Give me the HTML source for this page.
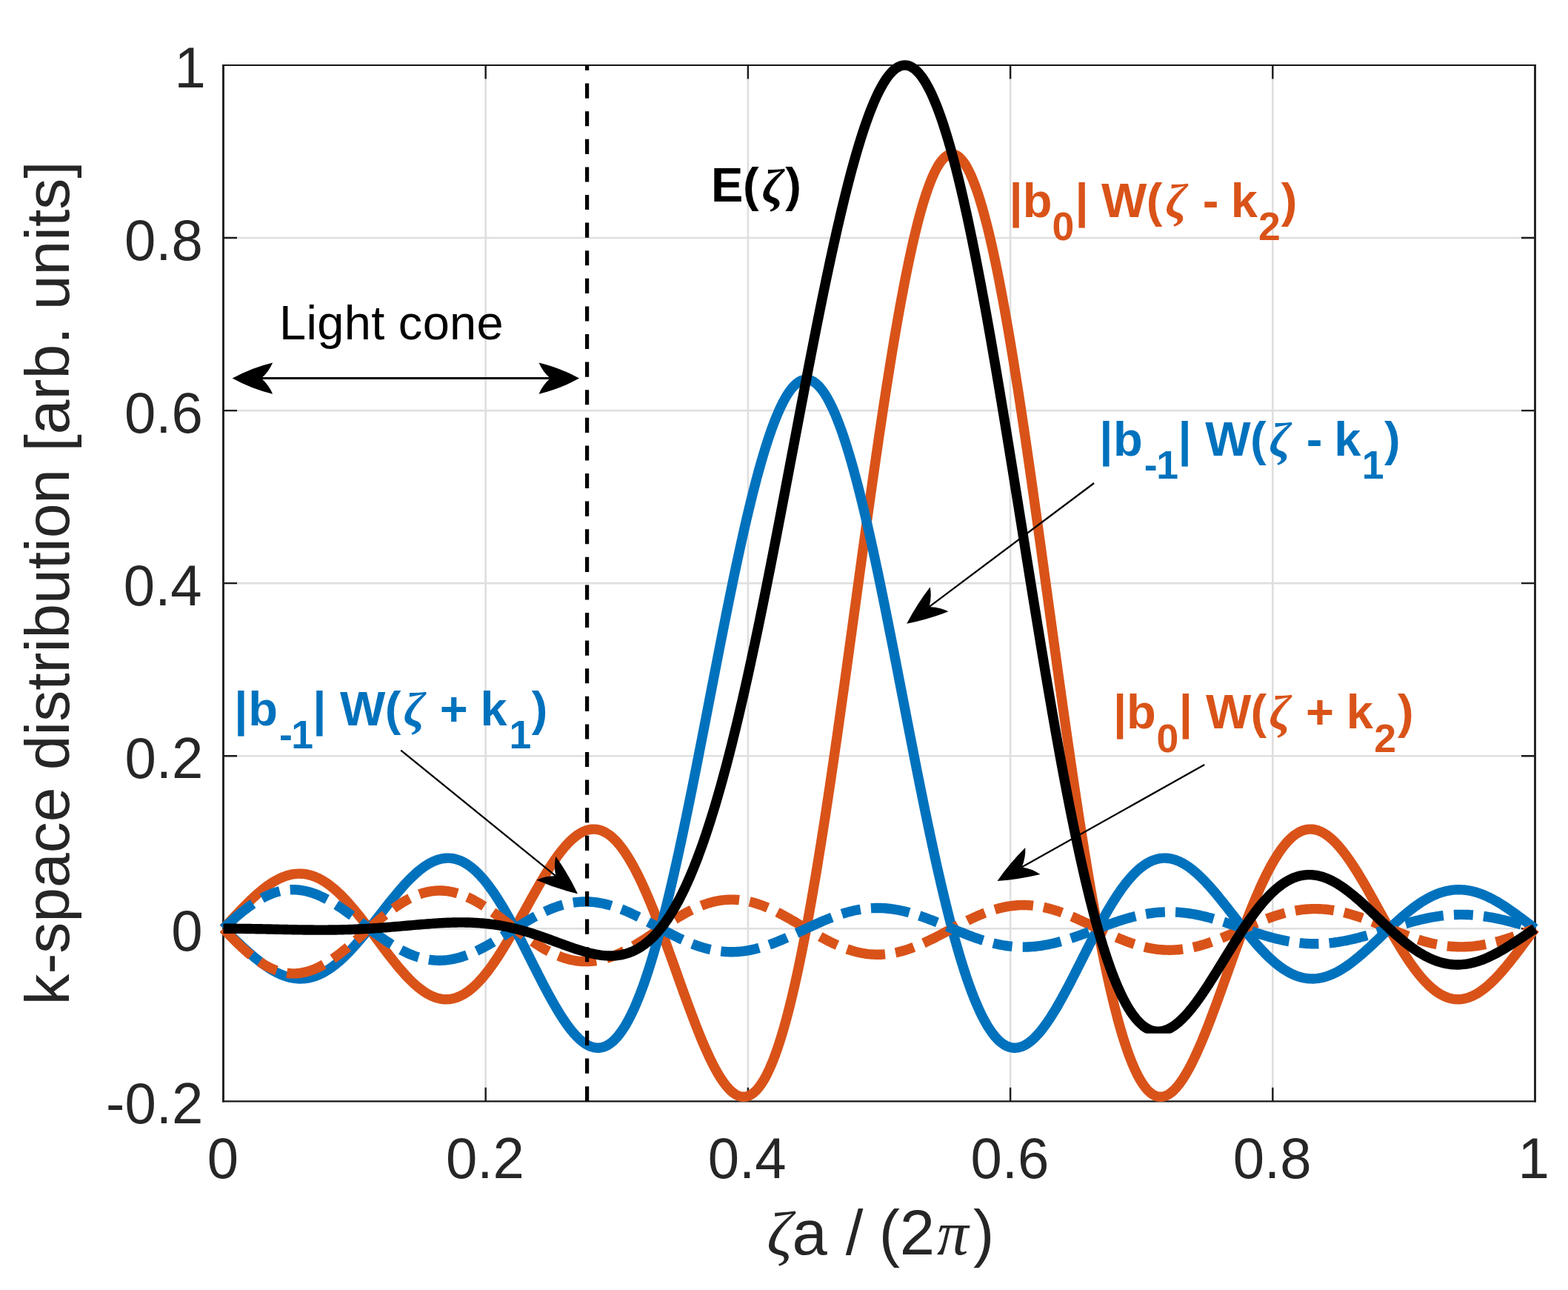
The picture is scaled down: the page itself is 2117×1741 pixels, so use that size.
<!DOCTYPE html><html><head><meta charset="utf-8"><title>k-space distribution</title><style>html,body{margin:0;padding:0;background:#fff;overflow:hidden}svg{display:block}</style></head><body><svg width="2117" height="1741" viewBox="0 0 2117 1741">
<rect width="2117" height="1741" fill="#fff"/>
<defs>
<clipPath id="cb"><rect x="0" y="0" width="2117" height="1486.90"/></clipPath>
<clipPath id="cE"><rect x="0" y="0" width="2117" height="1394.7"/></clipPath>
</defs>
<path d="M655.70,88.00V1486.30M1009.90,88.00V1486.30M1364.10,88.00V1486.30M1718.30,88.00V1486.30M301.50,1253.25H2072.50M301.50,1020.20H2072.50M301.50,787.15H2072.50M301.50,554.10H2072.50M301.50,321.05H2072.50" stroke="#262626" stroke-opacity="0.15" stroke-width="2.6" fill="none"/>
<path d="M655.70,1486.30v-18.5M655.70,88.00v18.5M1009.90,1486.30v-18.5M1009.90,88.00v18.5M1364.10,1486.30v-18.5M1364.10,88.00v18.5M1718.30,1486.30v-18.5M1718.30,88.00v18.5M301.50,1253.25h18.5M2072.50,1253.25h-18.5M301.50,1020.20h18.5M2072.50,1020.20h-18.5M301.50,787.15h18.5M2072.50,787.15h-18.5M301.50,554.10h18.5M2072.50,554.10h-18.5M301.50,321.05h18.5M2072.50,321.05h-18.5" stroke="#1c1c1c" stroke-width="2.4" fill="none"/>
<path d="M300.10,88.00H2073.90M300.10,1486.30H2073.90" stroke="#161616" stroke-width="2.2" fill="none"/>
<path d="M301.50,86.90V1487.40M2072.50,86.90V1487.40" stroke="#202020" stroke-width="2.9" fill="none"/>
<g font-family="Liberation Sans, Arial, Helvetica, sans-serif" font-size="78.5" fill="#262626">
<text transform="translate(279.68,1589.60) scale(0.97,1)">0</text>
<text transform="translate(601.90,1589.60) scale(0.97,1)">0.2</text>
<text transform="translate(955.70,1589.60) scale(0.97,1)">0.4</text>
<text transform="translate(1310.47,1589.60) scale(0.97,1)">0.6</text>
<text transform="translate(1664.63,1589.60) scale(0.97,1)">0.8</text>
<text transform="translate(2049.40,1589.60) scale(0.97,1)">1</text>
<text transform="translate(143.11,1515.90) scale(0.97,1)">-0.2</text>
<text transform="translate(231.13,1282.85) scale(0.97,1)">0</text>
<text transform="translate(168.47,1049.80) scale(0.97,1)">0.2</text>
<text transform="translate(166.87,816.75) scale(0.97,1)">0.4</text>
<text transform="translate(168.01,583.70) scale(0.97,1)">0.6</text>
<text transform="translate(167.93,350.65) scale(0.97,1)">0.8</text>
</g>
<text transform="translate(235.5,117.60) scale(0.97,1)" font-family="Liberation Sans, Arial, Helvetica, sans-serif" font-size="78.5" fill="#262626">1</text>
<text font-family="Liberation Sans, Arial, Helvetica, sans-serif" fill="#262626" ><tspan x="1035.30" y="1693.80" style="font-size:85px;font-family:Liberation Serif, Times New Roman, serif;font-style:italic;font-weight:normal">ζ</tspan><tspan x="1069.54" y="1693.30" style="font-size:85px">a</tspan><tspan x="1141.63" y="1693.30" style="font-size:85px">/</tspan><tspan x="1186.87" y="1693.30" style="font-size:85px">(</tspan><tspan x="1214.87" y="1693.30" style="font-size:85px">2</tspan><tspan x="1265.07" y="1693.30" style="font-size:85px;font-family:Liberation Serif, Times New Roman, serif;font-style:italic;font-weight:normal">π</tspan><tspan x="1314.03" y="1693.30" style="font-size:85px">)</tspan></text>
<text transform="translate(93,787) rotate(-90)" text-anchor="middle" font-family="Liberation Sans, Arial, Helvetica, sans-serif" font-size="84" fill="#262626">k-space distribution [arb. units]</text>
<g fill="none" stroke-width="13.4" stroke-linejoin="round" clip-path="url(#cb)">
<path d="M301.50,1253.25 L303.96,1250.63 L306.42,1248.00 L308.88,1245.37 L311.34,1242.74 L313.80,1240.10 L316.26,1237.48 L318.72,1234.87 L321.18,1232.27 L323.64,1229.69 L326.10,1227.13 L328.56,1224.60 L331.02,1222.11 L333.48,1219.64 L335.94,1217.22 L338.40,1214.84 L340.86,1212.51 L343.32,1210.23 L345.77,1208.00 L348.23,1205.83 L350.69,1203.72 L353.15,1201.68 L355.61,1199.71 L358.07,1197.81 L360.53,1195.98 L362.99,1194.23 L365.45,1192.57 L367.91,1190.99 L370.37,1189.50 L372.83,1188.10 L375.29,1186.79 L377.75,1185.58 L380.21,1184.46 L382.67,1183.45 L385.13,1182.54 L387.59,1181.73 L390.05,1181.03 L392.51,1180.43 L394.97,1179.95 L397.43,1179.58 L399.89,1179.32 L402.35,1179.17 L404.81,1179.13 L407.27,1179.21 L409.73,1179.40 L412.19,1179.71 L414.65,1180.14 L417.11,1180.68 L419.57,1181.34 L422.03,1182.11 L424.49,1182.99 L426.95,1183.99 L429.41,1185.10 L431.87,1186.33 L434.32,1187.66 L436.78,1189.10 L439.24,1190.65 L441.70,1192.31 L444.16,1194.07 L446.62,1195.93 L449.08,1197.89 L451.54,1199.95 L454.00,1202.11 L456.46,1204.35 L458.92,1206.69 L461.38,1209.11 L463.84,1211.61 L466.30,1214.19 L468.76,1216.85 L471.22,1219.58 L473.68,1222.38 L476.14,1225.25 L478.60,1228.17 L481.06,1231.16 L483.52,1234.19 L485.98,1237.27 L488.44,1240.40 L490.90,1243.56 L493.36,1246.76 L495.82,1249.99 L498.28,1253.25 L500.74,1256.53 L503.20,1259.82 L505.66,1263.12 L508.12,1266.43 L510.58,1269.73 L513.04,1273.04 L515.50,1276.33 L517.96,1279.61 L520.42,1282.87 L522.88,1286.11 L525.33,1289.31 L527.79,1292.48 L530.25,1295.61 L532.71,1298.70 L535.17,1301.73 L537.63,1304.71 L540.09,1307.63 L542.55,1310.49 L545.01,1313.27 L547.47,1315.99 L549.93,1318.62 L552.39,1321.17 L554.85,1323.63 L557.31,1326.00 L559.77,1328.27 L562.23,1330.44 L564.69,1332.51 L567.15,1334.47 L569.61,1336.31 L572.07,1338.04 L574.53,1339.66 L576.99,1341.15 L579.45,1342.51 L581.91,1343.74 L584.37,1344.85 L586.83,1345.82 L589.29,1346.65 L591.75,1347.34 L594.21,1347.90 L596.67,1348.31 L599.13,1348.58 L601.59,1348.70 L604.05,1348.67 L606.51,1348.50 L608.97,1348.18 L611.42,1347.71 L613.88,1347.09 L616.34,1346.32 L618.80,1345.40 L621.26,1344.33 L623.72,1343.11 L626.18,1341.74 L628.64,1340.23 L631.10,1338.57 L633.56,1336.76 L636.02,1334.82 L638.48,1332.73 L640.94,1330.50 L643.40,1328.14 L645.86,1325.64 L648.32,1323.01 L650.78,1320.25 L653.24,1317.37 L655.70,1314.36 L658.16,1311.24 L660.62,1308.00 L663.08,1304.65 L665.54,1301.20 L668.00,1297.65 L670.46,1293.99 L672.92,1290.25 L675.38,1286.42 L677.84,1282.50 L680.30,1278.51 L682.76,1274.44 L685.22,1270.31 L687.68,1266.12 L690.14,1261.88 L692.60,1257.59 L695.06,1253.25 L697.52,1248.88 L699.98,1244.48 L702.43,1240.05 L704.89,1235.61 L707.35,1231.15 L709.81,1226.70 L712.27,1222.24 L714.73,1217.80 L717.19,1213.37 L719.65,1208.96 L722.11,1204.59 L724.57,1200.25 L727.03,1195.96 L729.49,1191.71 L731.95,1187.53 L734.41,1183.41 L736.87,1179.36 L739.33,1175.38 L741.79,1171.50 L744.25,1167.70 L746.71,1164.00 L749.17,1160.41 L751.63,1156.93 L754.09,1153.56 L756.55,1150.32 L759.01,1147.20 L761.47,1144.22 L763.93,1141.38 L766.39,1138.69 L768.85,1136.15 L771.31,1133.77 L773.77,1131.55 L776.23,1129.50 L778.69,1127.61 L781.15,1125.91 L783.61,1124.38 L786.07,1123.04 L788.53,1121.89 L790.98,1120.93 L793.44,1120.17 L795.90,1119.60 L798.36,1119.24 L800.82,1119.08 L803.28,1119.12 L805.74,1119.38 L808.20,1119.84 L810.66,1120.52 L813.12,1121.41 L815.58,1122.51 L818.04,1123.83 L820.50,1125.36 L822.96,1127.10 L825.42,1129.06 L827.88,1131.24 L830.34,1133.62 L832.80,1136.22 L835.26,1139.03 L837.72,1142.04 L840.18,1145.27 L842.64,1148.69 L845.10,1152.32 L847.56,1156.14 L850.02,1160.15 L852.48,1164.36 L854.94,1168.75 L857.40,1173.32 L859.86,1178.07 L862.32,1183.00 L864.78,1188.08 L867.24,1193.33 L869.70,1198.74 L872.16,1204.29 L874.62,1209.99 L877.08,1215.82 L879.53,1221.78 L881.99,1227.86 L884.45,1234.06 L886.91,1240.36 L889.37,1246.76 L891.83,1253.25 L894.29,1259.82 L896.75,1266.47 L899.21,1273.18 L901.67,1279.94 L904.13,1286.75 L906.59,1293.60 L909.05,1300.47 L911.51,1307.36 L913.97,1314.26 L916.43,1321.15 L918.89,1328.04 L921.35,1334.90 L923.81,1341.72 L926.27,1348.50 L928.73,1355.23 L931.19,1361.89 L933.65,1368.48 L936.11,1374.98 L938.57,1381.39 L941.03,1387.68 L943.49,1393.86 L945.95,1399.91 L948.41,1405.82 L950.87,1411.58 L953.33,1417.18 L955.79,1422.61 L958.25,1427.86 L960.71,1432.91 L963.17,1437.77 L965.62,1442.41 L968.08,1446.83 L970.54,1451.01 L973.00,1454.96 L975.46,1458.66 L977.92,1462.09 L980.38,1465.26 L982.84,1468.14 L985.30,1470.75 L987.76,1473.05 L990.22,1475.05 L992.68,1476.75 L995.14,1478.12 L997.60,1479.16 L1000.06,1479.88 L1002.52,1480.25 L1004.98,1480.28 L1007.44,1479.95 L1009.90,1479.27 L1012.36,1478.22 L1014.82,1476.80 L1017.28,1475.01 L1019.74,1472.84 L1022.20,1470.29 L1024.66,1467.35 L1027.12,1464.02 L1029.58,1460.30 L1032.04,1456.19 L1034.50,1451.68 L1036.96,1446.77 L1039.42,1441.46 L1041.88,1435.75 L1044.34,1429.64 L1046.80,1423.13 L1049.26,1416.22 L1051.72,1408.91 L1054.17,1401.20 L1056.63,1393.09 L1059.09,1384.59 L1061.55,1375.70 L1064.01,1366.42 L1066.47,1356.76 L1068.93,1346.72 L1071.39,1336.29 L1073.85,1325.50 L1076.31,1314.34 L1078.77,1302.82 L1081.23,1290.94 L1083.69,1278.72 L1086.15,1266.15 L1088.61,1253.25 L1091.07,1240.02 L1093.53,1226.48 L1095.99,1212.62 L1098.45,1198.46 L1100.91,1184.01 L1103.37,1169.28 L1105.83,1154.28 L1108.29,1139.01 L1110.75,1123.50 L1113.21,1107.74 L1115.67,1091.75 L1118.13,1075.55 L1120.59,1059.14 L1123.05,1042.54 L1125.51,1025.75 L1127.97,1008.80 L1130.43,991.69 L1132.89,974.44 L1135.35,957.06 L1137.81,939.57 L1140.27,921.98 L1142.72,904.30 L1145.18,886.54 L1147.64,868.73 L1150.10,850.87 L1152.56,832.98 L1155.02,815.08 L1157.48,797.18 L1159.94,779.30 L1162.40,761.44 L1164.86,743.63 L1167.32,725.88 L1169.78,708.20 L1172.24,690.62 L1174.70,673.14 L1177.16,655.78 L1179.62,638.55 L1182.08,621.48 L1184.54,604.57 L1187.00,587.84 L1189.46,571.30 L1191.92,554.97 L1194.38,538.87 L1196.84,523.00 L1199.30,507.39 L1201.76,492.04 L1204.22,476.97 L1206.68,462.19 L1209.14,447.72 L1211.60,433.57 L1214.06,419.75 L1216.52,406.27 L1218.98,393.15 L1221.44,380.39 L1223.90,368.02 L1226.36,356.03 L1228.82,344.45 L1231.28,333.28 L1233.73,322.53 L1236.19,312.21 L1238.65,302.34 L1241.11,292.91 L1243.57,283.95 L1246.03,275.45 L1248.49,267.43 L1250.95,259.89 L1253.41,252.83 L1255.87,246.28 L1258.33,240.22 L1260.79,234.68 L1263.25,229.65 L1265.71,225.13 L1268.17,221.13 L1270.63,217.67 L1273.09,214.72 L1275.55,212.31 L1278.01,210.44 L1280.47,209.10 L1282.93,208.29 L1285.39,208.02 L1287.85,208.29 L1290.31,209.10 L1292.77,210.44 L1295.23,212.31 L1297.69,214.72 L1300.15,217.67 L1302.61,221.13 L1305.07,225.13 L1307.53,229.65 L1309.99,234.68 L1312.45,240.22 L1314.91,246.28 L1317.37,252.83 L1319.83,259.89 L1322.28,267.43 L1324.74,275.45 L1327.20,283.95 L1329.66,292.91 L1332.12,302.34 L1334.58,312.21 L1337.04,322.53 L1339.50,333.28 L1341.96,344.45 L1344.42,356.03 L1346.88,368.02 L1349.34,380.39 L1351.80,393.15 L1354.26,406.27 L1356.72,419.75 L1359.18,433.57 L1361.64,447.72 L1364.10,462.19 L1366.56,476.97 L1369.02,492.04 L1371.48,507.39 L1373.94,523.00 L1376.40,538.87 L1378.86,554.97 L1381.32,571.30 L1383.78,587.84 L1386.24,604.57 L1388.70,621.48 L1391.16,638.55 L1393.62,655.78 L1396.08,673.14 L1398.54,690.62 L1401.00,708.20 L1403.46,725.88 L1405.92,743.63 L1408.38,761.44 L1410.83,779.30 L1413.29,797.18 L1415.75,815.08 L1418.21,832.98 L1420.67,850.87 L1423.13,868.73 L1425.59,886.54 L1428.05,904.30 L1430.51,921.98 L1432.97,939.57 L1435.43,957.06 L1437.89,974.44 L1440.35,991.69 L1442.81,1008.80 L1445.27,1025.75 L1447.73,1042.54 L1450.19,1059.14 L1452.65,1075.55 L1455.11,1091.75 L1457.57,1107.74 L1460.03,1123.50 L1462.49,1139.01 L1464.95,1154.28 L1467.41,1169.28 L1469.87,1184.01 L1472.33,1198.46 L1474.79,1212.62 L1477.25,1226.48 L1479.71,1240.02 L1482.17,1253.25 L1484.63,1266.15 L1487.09,1278.72 L1489.55,1290.94 L1492.01,1302.82 L1494.47,1314.34 L1496.93,1325.50 L1499.38,1336.29 L1501.84,1346.72 L1504.30,1356.76 L1506.76,1366.42 L1509.22,1375.70 L1511.68,1384.59 L1514.14,1393.09 L1516.60,1401.20 L1519.06,1408.91 L1521.52,1416.22 L1523.98,1423.13 L1526.44,1429.64 L1528.90,1435.75 L1531.36,1441.46 L1533.82,1446.77 L1536.28,1451.68 L1538.74,1456.19 L1541.20,1460.30 L1543.66,1464.02 L1546.12,1467.35 L1548.58,1470.29 L1551.04,1472.84 L1553.50,1475.01 L1555.96,1476.80 L1558.42,1478.22 L1560.88,1479.27 L1563.34,1479.95 L1565.80,1480.28 L1568.26,1480.25 L1570.72,1479.88 L1573.18,1479.16 L1575.64,1478.12 L1578.10,1476.75 L1580.56,1475.05 L1583.02,1473.05 L1585.47,1470.75 L1587.93,1468.14 L1590.39,1465.26 L1592.85,1462.09 L1595.31,1458.66 L1597.77,1454.96 L1600.23,1451.01 L1602.69,1446.83 L1605.15,1442.41 L1607.61,1437.77 L1610.07,1432.91 L1612.53,1427.86 L1614.99,1422.61 L1617.45,1417.18 L1619.91,1411.58 L1622.37,1405.82 L1624.83,1399.91 L1627.29,1393.86 L1629.75,1387.68 L1632.21,1381.39 L1634.67,1374.98 L1637.13,1368.48 L1639.59,1361.89 L1642.05,1355.23 L1644.51,1348.50 L1646.97,1341.72 L1649.43,1334.90 L1651.89,1328.04 L1654.35,1321.15 L1656.81,1314.26 L1659.27,1307.36 L1661.73,1300.47 L1664.19,1293.60 L1666.65,1286.75 L1669.11,1279.94 L1671.57,1273.18 L1674.03,1266.47 L1676.48,1259.82 L1678.94,1253.25 L1681.40,1246.76 L1683.86,1240.36 L1686.32,1234.06 L1688.78,1227.86 L1691.24,1221.78 L1693.70,1215.82 L1696.16,1209.99 L1698.62,1204.29 L1701.08,1198.74 L1703.54,1193.33 L1706.00,1188.08 L1708.46,1183.00 L1710.92,1178.07 L1713.38,1173.32 L1715.84,1168.75 L1718.30,1164.36 L1720.76,1160.15 L1723.22,1156.14 L1725.68,1152.32 L1728.14,1148.69 L1730.60,1145.27 L1733.06,1142.04 L1735.52,1139.03 L1737.98,1136.22 L1740.44,1133.62 L1742.90,1131.24 L1745.36,1129.06 L1747.82,1127.10 L1750.28,1125.36 L1752.74,1123.83 L1755.20,1122.51 L1757.66,1121.41 L1760.12,1120.52 L1762.58,1119.84 L1765.03,1119.38 L1767.49,1119.12 L1769.95,1119.08 L1772.41,1119.24 L1774.87,1119.60 L1777.33,1120.17 L1779.79,1120.93 L1782.25,1121.89 L1784.71,1123.04 L1787.17,1124.38 L1789.63,1125.91 L1792.09,1127.61 L1794.55,1129.50 L1797.01,1131.55 L1799.47,1133.77 L1801.93,1136.15 L1804.39,1138.69 L1806.85,1141.38 L1809.31,1144.22 L1811.77,1147.20 L1814.23,1150.32 L1816.69,1153.56 L1819.15,1156.93 L1821.61,1160.41 L1824.07,1164.00 L1826.53,1167.70 L1828.99,1171.50 L1831.45,1175.38 L1833.91,1179.36 L1836.37,1183.41 L1838.83,1187.53 L1841.29,1191.71 L1843.75,1195.96 L1846.21,1200.25 L1848.67,1204.59 L1851.12,1208.96 L1853.58,1213.37 L1856.04,1217.80 L1858.50,1222.24 L1860.96,1226.70 L1863.42,1231.15 L1865.88,1235.61 L1868.34,1240.05 L1870.80,1244.48 L1873.26,1248.88 L1875.72,1253.25 L1878.18,1257.59 L1880.64,1261.88 L1883.10,1266.12 L1885.56,1270.31 L1888.02,1274.44 L1890.48,1278.51 L1892.94,1282.50 L1895.40,1286.42 L1897.86,1290.25 L1900.32,1293.99 L1902.78,1297.65 L1905.24,1301.20 L1907.70,1304.65 L1910.16,1308.00 L1912.62,1311.24 L1915.08,1314.36 L1917.54,1317.37 L1920.00,1320.25 L1922.46,1323.01 L1924.92,1325.64 L1927.38,1328.14 L1929.84,1330.50 L1932.30,1332.73 L1934.76,1334.82 L1937.22,1336.76 L1939.68,1338.57 L1942.13,1340.23 L1944.59,1341.74 L1947.05,1343.11 L1949.51,1344.33 L1951.97,1345.40 L1954.43,1346.32 L1956.89,1347.09 L1959.35,1347.71 L1961.81,1348.18 L1964.27,1348.50 L1966.73,1348.67 L1969.19,1348.70 L1971.65,1348.58 L1974.11,1348.31 L1976.57,1347.90 L1979.03,1347.34 L1981.49,1346.65 L1983.95,1345.82 L1986.41,1344.85 L1988.87,1343.74 L1991.33,1342.51 L1993.79,1341.15 L1996.25,1339.66 L1998.71,1338.04 L2001.17,1336.31 L2003.63,1334.47 L2006.09,1332.51 L2008.55,1330.44 L2011.01,1328.27 L2013.47,1326.00 L2015.93,1323.63 L2018.39,1321.17 L2020.85,1318.62 L2023.31,1315.99 L2025.77,1313.27 L2028.23,1310.49 L2030.68,1307.63 L2033.14,1304.71 L2035.60,1301.73 L2038.06,1298.70 L2040.52,1295.61 L2042.98,1292.48 L2045.44,1289.31 L2047.90,1286.11 L2050.36,1282.87 L2052.82,1279.61 L2055.28,1276.33 L2057.74,1273.04 L2060.20,1269.73 L2062.66,1266.43 L2065.12,1263.12 L2067.58,1259.82 L2070.04,1256.53 L2072.50,1253.25" stroke="#D95319"/>
<path d="M301.50,1253.25 L303.96,1255.57 L306.42,1257.91 L308.88,1260.25 L311.34,1262.59 L313.80,1264.94 L316.26,1267.28 L318.72,1269.62 L321.18,1271.94 L323.64,1274.25 L326.10,1276.55 L328.56,1278.82 L331.02,1281.07 L333.48,1283.29 L335.94,1285.47 L338.40,1287.63 L340.86,1289.74 L343.32,1291.81 L345.77,1293.83 L348.23,1295.81 L350.69,1297.73 L353.15,1299.60 L355.61,1301.41 L358.07,1303.15 L360.53,1304.83 L362.99,1306.44 L365.45,1307.98 L367.91,1309.45 L370.37,1310.84 L372.83,1312.14 L375.29,1313.37 L377.75,1314.51 L380.21,1315.57 L382.67,1316.54 L385.13,1317.41 L387.59,1318.19 L390.05,1318.88 L392.51,1319.47 L394.97,1319.97 L397.43,1320.36 L399.89,1320.65 L402.35,1320.84 L404.81,1320.93 L407.27,1320.91 L409.73,1320.78 L412.19,1320.56 L414.65,1320.22 L417.11,1319.78 L419.57,1319.24 L422.03,1318.58 L424.49,1317.83 L426.95,1316.96 L429.41,1315.99 L431.87,1314.92 L434.32,1313.74 L436.78,1312.46 L439.24,1311.08 L441.70,1309.60 L444.16,1308.02 L446.62,1306.35 L449.08,1304.57 L451.54,1302.71 L454.00,1300.76 L456.46,1298.71 L458.92,1296.58 L461.38,1294.37 L463.84,1292.07 L466.30,1289.70 L468.76,1287.25 L471.22,1284.73 L473.68,1282.14 L476.14,1279.48 L478.60,1276.77 L481.06,1273.99 L483.52,1271.16 L485.98,1268.28 L488.44,1265.35 L490.90,1262.38 L493.36,1259.37 L495.82,1256.32 L498.28,1253.25 L500.74,1250.15 L503.20,1247.03 L505.66,1243.89 L508.12,1240.74 L510.58,1237.58 L513.04,1234.42 L515.50,1231.26 L517.96,1228.11 L520.42,1224.97 L522.88,1221.85 L525.33,1218.75 L527.79,1215.67 L530.25,1212.63 L532.71,1209.62 L535.17,1206.65 L537.63,1203.73 L540.09,1200.86 L542.55,1198.04 L545.01,1195.28 L547.47,1192.59 L549.93,1189.97 L552.39,1187.42 L554.85,1184.95 L557.31,1182.57 L559.77,1180.27 L562.23,1178.06 L564.69,1175.95 L567.15,1173.93 L569.61,1172.03 L572.07,1170.22 L574.53,1168.53 L576.99,1166.96 L579.45,1165.50 L581.91,1164.17 L584.37,1162.96 L586.83,1161.88 L589.29,1160.93 L591.75,1160.11 L594.21,1159.43 L596.67,1158.89 L599.13,1158.49 L601.59,1158.23 L604.05,1158.12 L606.51,1158.15 L608.97,1158.33 L611.42,1158.66 L613.88,1159.14 L616.34,1159.77 L618.80,1160.55 L621.26,1161.48 L623.72,1162.57 L626.18,1163.81 L628.64,1165.20 L631.10,1166.74 L633.56,1168.43 L636.02,1170.27 L638.48,1172.26 L640.94,1174.40 L643.40,1176.69 L645.86,1179.11 L648.32,1181.68 L650.78,1184.39 L653.24,1187.24 L655.70,1190.22 L658.16,1193.34 L660.62,1196.58 L663.08,1199.95 L665.54,1203.44 L668.00,1207.05 L670.46,1210.77 L672.92,1214.60 L675.38,1218.54 L677.84,1222.58 L680.30,1226.71 L682.76,1230.94 L685.22,1235.25 L687.68,1239.64 L690.14,1244.11 L692.60,1248.65 L695.06,1253.25 L697.52,1257.91 L699.98,1262.62 L702.43,1267.38 L704.89,1272.17 L707.35,1277.00 L709.81,1281.86 L712.27,1286.73 L714.73,1291.62 L717.19,1296.51 L719.65,1301.40 L722.11,1306.28 L724.57,1311.14 L727.03,1315.98 L729.49,1320.79 L731.95,1325.56 L734.41,1330.28 L736.87,1334.95 L739.33,1339.56 L741.79,1344.10 L744.25,1348.57 L746.71,1352.95 L749.17,1357.24 L751.63,1361.43 L754.09,1365.51 L756.55,1369.48 L759.01,1373.33 L761.47,1377.05 L763.93,1380.64 L766.39,1384.08 L768.85,1387.37 L771.31,1390.50 L773.77,1393.47 L776.23,1396.27 L778.69,1398.89 L781.15,1401.32 L783.61,1403.57 L786.07,1405.62 L788.53,1407.46 L790.98,1409.10 L793.44,1410.52 L795.90,1411.72 L798.36,1412.69 L800.82,1413.43 L803.28,1413.94 L805.74,1414.20 L808.20,1414.22 L810.66,1413.99 L813.12,1413.50 L815.58,1412.76 L818.04,1411.75 L820.50,1410.48 L822.96,1408.94 L825.42,1407.13 L827.88,1405.05 L830.34,1402.69 L832.80,1400.05 L835.26,1397.14 L837.72,1393.94 L840.18,1390.46 L842.64,1386.69 L845.10,1382.65 L847.56,1378.31 L850.02,1373.70 L852.48,1368.80 L854.94,1363.62 L857.40,1358.15 L859.86,1352.40 L862.32,1346.38 L864.78,1340.07 L867.24,1333.49 L869.70,1326.64 L872.16,1319.52 L874.62,1312.13 L877.08,1304.48 L879.53,1296.56 L881.99,1288.40 L884.45,1279.97 L886.91,1271.31 L889.37,1262.40 L891.83,1253.25 L894.29,1243.87 L896.75,1234.27 L899.21,1224.44 L901.67,1214.40 L904.13,1204.16 L906.59,1193.72 L909.05,1183.08 L911.51,1172.25 L913.97,1161.25 L916.43,1150.08 L918.89,1138.74 L921.35,1127.25 L923.81,1115.62 L926.27,1103.85 L928.73,1091.95 L931.19,1079.93 L933.65,1067.80 L936.11,1055.57 L938.57,1043.25 L941.03,1030.84 L943.49,1018.37 L945.95,1005.83 L948.41,993.24 L950.87,980.61 L953.33,967.95 L955.79,955.27 L958.25,942.58 L960.71,929.88 L963.17,917.20 L965.62,904.54 L968.08,891.91 L970.54,879.33 L973.00,866.79 L975.46,854.33 L977.92,841.93 L980.38,829.62 L982.84,817.41 L985.30,805.30 L987.76,793.31 L990.22,781.45 L992.68,769.73 L995.14,758.15 L997.60,746.73 L1000.06,735.48 L1002.52,724.41 L1004.98,713.53 L1007.44,702.84 L1009.90,692.37 L1012.36,682.11 L1014.82,672.07 L1017.28,662.27 L1019.74,652.71 L1022.20,643.41 L1024.66,634.37 L1027.12,625.59 L1029.58,617.10 L1032.04,608.88 L1034.50,600.96 L1036.96,593.34 L1039.42,586.03 L1041.88,579.02 L1044.34,572.34 L1046.80,565.99 L1049.26,559.96 L1051.72,554.27 L1054.17,548.92 L1056.63,543.92 L1059.09,539.28 L1061.55,534.98 L1064.01,531.05 L1066.47,527.48 L1068.93,524.28 L1071.39,521.45 L1073.85,518.99 L1076.31,516.90 L1078.77,515.19 L1081.23,513.86 L1083.69,512.91 L1086.15,512.34 L1088.61,512.15 L1091.07,512.34 L1093.53,512.91 L1095.99,513.86 L1098.45,515.19 L1100.91,516.90 L1103.37,518.99 L1105.83,521.45 L1108.29,524.28 L1110.75,527.48 L1113.21,531.05 L1115.67,534.98 L1118.13,539.28 L1120.59,543.92 L1123.05,548.92 L1125.51,554.27 L1127.97,559.96 L1130.43,565.99 L1132.89,572.34 L1135.35,579.02 L1137.81,586.03 L1140.27,593.34 L1142.72,600.96 L1145.18,608.88 L1147.64,617.10 L1150.10,625.59 L1152.56,634.37 L1155.02,643.41 L1157.48,652.71 L1159.94,662.27 L1162.40,672.07 L1164.86,682.11 L1167.32,692.37 L1169.78,702.84 L1172.24,713.53 L1174.70,724.41 L1177.16,735.48 L1179.62,746.73 L1182.08,758.15 L1184.54,769.73 L1187.00,781.45 L1189.46,793.31 L1191.92,805.30 L1194.38,817.41 L1196.84,829.62 L1199.30,841.93 L1201.76,854.33 L1204.22,866.79 L1206.68,879.33 L1209.14,891.91 L1211.60,904.54 L1214.06,917.20 L1216.52,929.88 L1218.98,942.58 L1221.44,955.27 L1223.90,967.95 L1226.36,980.61 L1228.82,993.24 L1231.28,1005.83 L1233.73,1018.37 L1236.19,1030.84 L1238.65,1043.25 L1241.11,1055.57 L1243.57,1067.80 L1246.03,1079.93 L1248.49,1091.95 L1250.95,1103.85 L1253.41,1115.62 L1255.87,1127.25 L1258.33,1138.74 L1260.79,1150.08 L1263.25,1161.25 L1265.71,1172.25 L1268.17,1183.08 L1270.63,1193.72 L1273.09,1204.16 L1275.55,1214.40 L1278.01,1224.44 L1280.47,1234.27 L1282.93,1243.87 L1285.39,1253.25 L1287.85,1262.40 L1290.31,1271.31 L1292.77,1279.97 L1295.23,1288.40 L1297.69,1296.56 L1300.15,1304.48 L1302.61,1312.13 L1305.07,1319.52 L1307.53,1326.64 L1309.99,1333.49 L1312.45,1340.07 L1314.91,1346.38 L1317.37,1352.40 L1319.83,1358.15 L1322.28,1363.62 L1324.74,1368.80 L1327.20,1373.70 L1329.66,1378.31 L1332.12,1382.65 L1334.58,1386.69 L1337.04,1390.46 L1339.50,1393.94 L1341.96,1397.14 L1344.42,1400.05 L1346.88,1402.69 L1349.34,1405.05 L1351.80,1407.13 L1354.26,1408.94 L1356.72,1410.48 L1359.18,1411.75 L1361.64,1412.76 L1364.10,1413.50 L1366.56,1413.99 L1369.02,1414.22 L1371.48,1414.20 L1373.94,1413.94 L1376.40,1413.43 L1378.86,1412.69 L1381.32,1411.72 L1383.78,1410.52 L1386.24,1409.10 L1388.70,1407.46 L1391.16,1405.62 L1393.62,1403.57 L1396.08,1401.32 L1398.54,1398.89 L1401.00,1396.27 L1403.46,1393.47 L1405.92,1390.50 L1408.38,1387.37 L1410.83,1384.08 L1413.29,1380.64 L1415.75,1377.05 L1418.21,1373.33 L1420.67,1369.48 L1423.13,1365.51 L1425.59,1361.43 L1428.05,1357.24 L1430.51,1352.95 L1432.97,1348.57 L1435.43,1344.10 L1437.89,1339.56 L1440.35,1334.95 L1442.81,1330.28 L1445.27,1325.56 L1447.73,1320.79 L1450.19,1315.98 L1452.65,1311.14 L1455.11,1306.28 L1457.57,1301.40 L1460.03,1296.51 L1462.49,1291.62 L1464.95,1286.73 L1467.41,1281.86 L1469.87,1277.00 L1472.33,1272.17 L1474.79,1267.38 L1477.25,1262.62 L1479.71,1257.91 L1482.17,1253.25 L1484.63,1248.65 L1487.09,1244.11 L1489.55,1239.64 L1492.01,1235.25 L1494.47,1230.94 L1496.93,1226.71 L1499.38,1222.58 L1501.84,1218.54 L1504.30,1214.60 L1506.76,1210.77 L1509.22,1207.05 L1511.68,1203.44 L1514.14,1199.95 L1516.60,1196.58 L1519.06,1193.34 L1521.52,1190.22 L1523.98,1187.24 L1526.44,1184.39 L1528.90,1181.68 L1531.36,1179.11 L1533.82,1176.69 L1536.28,1174.40 L1538.74,1172.26 L1541.20,1170.27 L1543.66,1168.43 L1546.12,1166.74 L1548.58,1165.20 L1551.04,1163.81 L1553.50,1162.57 L1555.96,1161.48 L1558.42,1160.55 L1560.88,1159.77 L1563.34,1159.14 L1565.80,1158.66 L1568.26,1158.33 L1570.72,1158.15 L1573.18,1158.12 L1575.64,1158.23 L1578.10,1158.49 L1580.56,1158.89 L1583.02,1159.43 L1585.47,1160.11 L1587.93,1160.93 L1590.39,1161.88 L1592.85,1162.96 L1595.31,1164.17 L1597.77,1165.50 L1600.23,1166.96 L1602.69,1168.53 L1605.15,1170.22 L1607.61,1172.03 L1610.07,1173.93 L1612.53,1175.95 L1614.99,1178.06 L1617.45,1180.27 L1619.91,1182.57 L1622.37,1184.95 L1624.83,1187.42 L1627.29,1189.97 L1629.75,1192.59 L1632.21,1195.28 L1634.67,1198.04 L1637.13,1200.86 L1639.59,1203.73 L1642.05,1206.65 L1644.51,1209.62 L1646.97,1212.63 L1649.43,1215.67 L1651.89,1218.75 L1654.35,1221.85 L1656.81,1224.97 L1659.27,1228.11 L1661.73,1231.26 L1664.19,1234.42 L1666.65,1237.58 L1669.11,1240.74 L1671.57,1243.89 L1674.03,1247.03 L1676.48,1250.15 L1678.94,1253.25 L1681.40,1256.32 L1683.86,1259.37 L1686.32,1262.38 L1688.78,1265.35 L1691.24,1268.28 L1693.70,1271.16 L1696.16,1273.99 L1698.62,1276.77 L1701.08,1279.48 L1703.54,1282.14 L1706.00,1284.73 L1708.46,1287.25 L1710.92,1289.70 L1713.38,1292.07 L1715.84,1294.37 L1718.30,1296.58 L1720.76,1298.71 L1723.22,1300.76 L1725.68,1302.71 L1728.14,1304.57 L1730.60,1306.35 L1733.06,1308.02 L1735.52,1309.60 L1737.98,1311.08 L1740.44,1312.46 L1742.90,1313.74 L1745.36,1314.92 L1747.82,1315.99 L1750.28,1316.96 L1752.74,1317.83 L1755.20,1318.58 L1757.66,1319.24 L1760.12,1319.78 L1762.58,1320.22 L1765.03,1320.56 L1767.49,1320.78 L1769.95,1320.91 L1772.41,1320.93 L1774.87,1320.84 L1777.33,1320.65 L1779.79,1320.36 L1782.25,1319.97 L1784.71,1319.47 L1787.17,1318.88 L1789.63,1318.19 L1792.09,1317.41 L1794.55,1316.54 L1797.01,1315.57 L1799.47,1314.51 L1801.93,1313.37 L1804.39,1312.14 L1806.85,1310.84 L1809.31,1309.45 L1811.77,1307.98 L1814.23,1306.44 L1816.69,1304.83 L1819.15,1303.15 L1821.61,1301.41 L1824.07,1299.60 L1826.53,1297.73 L1828.99,1295.81 L1831.45,1293.83 L1833.91,1291.81 L1836.37,1289.74 L1838.83,1287.63 L1841.29,1285.47 L1843.75,1283.29 L1846.21,1281.07 L1848.67,1278.82 L1851.12,1276.55 L1853.58,1274.25 L1856.04,1271.94 L1858.50,1269.62 L1860.96,1267.28 L1863.42,1264.94 L1865.88,1262.59 L1868.34,1260.25 L1870.80,1257.91 L1873.26,1255.57 L1875.72,1253.25 L1878.18,1250.94 L1880.64,1248.65 L1883.10,1246.38 L1885.56,1244.14 L1888.02,1241.92 L1890.48,1239.74 L1892.94,1237.58 L1895.40,1235.47 L1897.86,1233.40 L1900.32,1231.37 L1902.78,1229.38 L1905.24,1227.44 L1907.70,1225.56 L1910.16,1223.73 L1912.62,1221.95 L1915.08,1220.24 L1917.54,1218.58 L1920.00,1216.99 L1922.46,1215.46 L1924.92,1214.00 L1927.38,1212.61 L1929.84,1211.29 L1932.30,1210.04 L1934.76,1208.87 L1937.22,1207.77 L1939.68,1206.74 L1942.13,1205.80 L1944.59,1204.93 L1947.05,1204.14 L1949.51,1203.43 L1951.97,1202.81 L1954.43,1202.26 L1956.89,1201.80 L1959.35,1201.41 L1961.81,1201.11 L1964.27,1200.89 L1966.73,1200.75 L1969.19,1200.70 L1971.65,1200.72 L1974.11,1200.83 L1976.57,1201.01 L1979.03,1201.28 L1981.49,1201.62 L1983.95,1202.04 L1986.41,1202.54 L1988.87,1203.11 L1991.33,1203.76 L1993.79,1204.48 L1996.25,1205.27 L1998.71,1206.13 L2001.17,1207.05 L2003.63,1208.05 L2006.09,1209.11 L2008.55,1210.23 L2011.01,1211.41 L2013.47,1212.64 L2015.93,1213.94 L2018.39,1215.29 L2020.85,1216.69 L2023.31,1218.13 L2025.77,1219.63 L2028.23,1221.17 L2030.68,1222.74 L2033.14,1224.36 L2035.60,1226.02 L2038.06,1227.70 L2040.52,1229.42 L2042.98,1231.17 L2045.44,1232.94 L2047.90,1234.73 L2050.36,1236.54 L2052.82,1238.37 L2055.28,1240.22 L2057.74,1242.07 L2060.20,1243.93 L2062.66,1245.79 L2065.12,1247.66 L2067.58,1249.53 L2070.04,1251.39 L2072.50,1253.25" stroke="#0072BD"/>
<path d="M301.50,1253.25 L303.96,1255.86 L306.42,1258.44 L308.88,1261.01 L311.34,1263.56 L313.80,1266.07 L316.26,1268.55 L318.72,1271.00 L321.18,1273.41 L323.64,1275.77 L326.10,1278.09 L328.56,1280.36 L331.02,1282.58 L333.48,1284.74 L335.94,1286.84 L338.40,1288.88 L340.86,1290.86 L343.32,1292.77 L345.77,1294.60 L348.23,1296.37 L350.69,1298.06 L353.15,1299.68 L355.61,1301.21 L358.07,1302.66 L360.53,1304.04 L362.99,1305.32 L365.45,1306.52 L367.91,1307.64 L370.37,1308.66 L372.83,1309.59 L375.29,1310.44 L377.75,1311.19 L380.21,1311.85 L382.67,1312.41 L385.13,1312.88 L387.59,1313.26 L390.05,1313.55 L392.51,1313.74 L394.97,1313.83 L397.43,1313.83 L399.89,1313.74 L402.35,1313.56 L404.81,1313.28 L407.27,1312.92 L409.73,1312.46 L412.19,1311.91 L414.65,1311.28 L417.11,1310.56 L419.57,1309.75 L422.03,1308.87 L424.49,1307.90 L426.95,1306.85 L429.41,1305.72 L431.87,1304.51 L434.32,1303.24 L436.78,1301.89 L439.24,1300.47 L441.70,1298.99 L444.16,1297.44 L446.62,1295.83 L449.08,1294.16 L451.54,1292.44 L454.00,1290.67 L456.46,1288.84 L458.92,1286.97 L461.38,1285.05 L463.84,1283.09 L466.30,1281.10 L468.76,1279.07 L471.22,1277.01 L473.68,1274.92 L476.14,1272.81 L478.60,1270.68 L481.06,1268.52 L483.52,1266.36 L485.98,1264.18 L488.44,1262.00 L490.90,1259.81 L493.36,1257.62 L495.82,1255.43 L498.28,1253.25 L500.74,1251.08 L503.20,1248.92 L505.66,1246.77 L508.12,1244.65 L510.58,1242.54 L513.04,1240.47 L515.50,1238.41 L517.96,1236.40 L520.42,1234.41 L522.88,1232.46 L525.33,1230.55 L527.79,1228.69 L530.25,1226.87 L532.71,1225.10 L535.17,1223.38 L537.63,1221.71 L540.09,1220.09 L542.55,1218.54 L545.01,1217.04 L547.47,1215.61 L549.93,1214.24 L552.39,1212.93 L554.85,1211.69 L557.31,1210.53 L559.77,1209.43 L562.23,1208.40 L564.69,1207.45 L567.15,1206.57 L569.61,1205.76 L572.07,1205.03 L574.53,1204.38 L576.99,1203.81 L579.45,1203.31 L581.91,1202.90 L584.37,1202.56 L586.83,1202.30 L589.29,1202.12 L591.75,1202.03 L594.21,1202.01 L596.67,1202.06 L599.13,1202.20 L601.59,1202.42 L604.05,1202.71 L606.51,1203.08 L608.97,1203.53 L611.42,1204.05 L613.88,1204.64 L616.34,1205.31 L618.80,1206.05 L621.26,1206.85 L623.72,1207.73 L626.18,1208.67 L628.64,1209.68 L631.10,1210.75 L633.56,1211.88 L636.02,1213.08 L638.48,1214.33 L640.94,1215.63 L643.40,1216.99 L645.86,1218.40 L648.32,1219.85 L650.78,1221.36 L653.24,1222.90 L655.70,1224.49 L658.16,1226.12 L660.62,1227.78 L663.08,1229.47 L665.54,1231.20 L668.00,1232.95 L670.46,1234.73 L672.92,1236.53 L675.38,1238.35 L677.84,1240.19 L680.30,1242.03 L682.76,1243.89 L685.22,1245.76 L687.68,1247.63 L690.14,1249.51 L692.60,1251.38 L695.06,1253.25 L697.52,1255.11 L699.98,1256.97 L702.43,1258.81 L704.89,1260.63 L707.35,1262.44 L709.81,1264.23 L712.27,1265.99 L714.73,1267.73 L717.19,1269.44 L719.65,1271.12 L722.11,1272.77 L724.57,1274.38 L727.03,1275.95 L729.49,1277.48 L731.95,1278.97 L734.41,1280.41 L736.87,1281.81 L739.33,1283.16 L741.79,1284.45 L744.25,1285.70 L746.71,1286.89 L749.17,1288.03 L751.63,1289.10 L754.09,1290.12 L756.55,1291.08 L759.01,1291.98 L761.47,1292.81 L763.93,1293.58 L766.39,1294.29 L768.85,1294.93 L771.31,1295.50 L773.77,1296.01 L776.23,1296.45 L778.69,1296.82 L781.15,1297.12 L783.61,1297.36 L786.07,1297.52 L788.53,1297.62 L790.98,1297.65 L793.44,1297.61 L795.90,1297.50 L798.36,1297.33 L800.82,1297.08 L803.28,1296.77 L805.74,1296.40 L808.20,1295.96 L810.66,1295.45 L813.12,1294.88 L815.58,1294.25 L818.04,1293.56 L820.50,1292.81 L822.96,1292.00 L825.42,1291.13 L827.88,1290.21 L830.34,1289.24 L832.80,1288.21 L835.26,1287.13 L837.72,1286.00 L840.18,1284.83 L842.64,1283.61 L845.10,1282.34 L847.56,1281.04 L850.02,1279.70 L852.48,1278.32 L854.94,1276.91 L857.40,1275.47 L859.86,1273.99 L862.32,1272.49 L864.78,1270.97 L867.24,1269.42 L869.70,1267.85 L872.16,1266.26 L874.62,1264.66 L877.08,1263.05 L879.53,1261.43 L881.99,1259.80 L884.45,1258.16 L886.91,1256.52 L889.37,1254.89 L891.83,1253.25 L894.29,1251.62 L896.75,1250.00 L899.21,1248.38 L901.67,1246.78 L904.13,1245.20 L906.59,1243.63 L909.05,1242.08 L911.51,1240.56 L913.97,1239.06 L916.43,1237.58 L918.89,1236.13 L921.35,1234.72 L923.81,1233.33 L926.27,1231.99 L928.73,1230.67 L931.19,1229.40 L933.65,1228.17 L936.11,1226.98 L938.57,1225.83 L941.03,1224.73 L943.49,1223.68 L945.95,1222.68 L948.41,1221.72 L950.87,1220.82 L953.33,1219.97 L955.79,1219.17 L958.25,1218.43 L960.71,1217.75 L963.17,1217.12 L965.62,1216.55 L968.08,1216.03 L970.54,1215.58 L973.00,1215.19 L975.46,1214.85 L977.92,1214.58 L980.38,1214.36 L982.84,1214.21 L985.30,1214.11 L987.76,1214.08 L990.22,1214.11 L992.68,1214.20 L995.14,1214.34 L997.60,1214.55 L1000.06,1214.82 L1002.52,1215.14 L1004.98,1215.52 L1007.44,1215.96 L1009.90,1216.46 L1012.36,1217.01 L1014.82,1217.61 L1017.28,1218.27 L1019.74,1218.98 L1022.20,1219.74 L1024.66,1220.55 L1027.12,1221.41 L1029.58,1222.31 L1032.04,1223.26 L1034.50,1224.25 L1036.96,1225.29 L1039.42,1226.36 L1041.88,1227.48 L1044.34,1228.63 L1046.80,1229.81 L1049.26,1231.03 L1051.72,1232.28 L1054.17,1233.55 L1056.63,1234.85 L1059.09,1236.18 L1061.55,1237.53 L1064.01,1238.90 L1066.47,1240.29 L1068.93,1241.70 L1071.39,1243.12 L1073.85,1244.55 L1076.31,1245.99 L1078.77,1247.43 L1081.23,1248.89 L1083.69,1250.34 L1086.15,1251.80 L1088.61,1253.25 L1091.07,1254.70 L1093.53,1256.14 L1095.99,1257.58 L1098.45,1259.00 L1100.91,1260.41 L1103.37,1261.81 L1105.83,1263.19 L1108.29,1264.55 L1110.75,1265.89 L1113.21,1267.20 L1115.67,1268.49 L1118.13,1269.76 L1120.59,1270.99 L1123.05,1272.20 L1125.51,1273.37 L1127.97,1274.51 L1130.43,1275.61 L1132.89,1276.67 L1135.35,1277.70 L1137.81,1278.68 L1140.27,1279.63 L1142.72,1280.53 L1145.18,1281.38 L1147.64,1282.19 L1150.10,1282.96 L1152.56,1283.67 L1155.02,1284.34 L1157.48,1284.96 L1159.94,1285.52 L1162.40,1286.04 L1164.86,1286.50 L1167.32,1286.91 L1169.78,1287.27 L1172.24,1287.58 L1174.70,1287.83 L1177.16,1288.02 L1179.62,1288.17 L1182.08,1288.26 L1184.54,1288.29 L1187.00,1288.27 L1189.46,1288.20 L1191.92,1288.07 L1194.38,1287.89 L1196.84,1287.66 L1199.30,1287.37 L1201.76,1287.04 L1204.22,1286.65 L1206.68,1286.21 L1209.14,1285.72 L1211.60,1285.19 L1214.06,1284.60 L1216.52,1283.97 L1218.98,1283.29 L1221.44,1282.57 L1223.90,1281.81 L1226.36,1281.00 L1228.82,1280.15 L1231.28,1279.26 L1233.73,1278.34 L1236.19,1277.38 L1238.65,1276.38 L1241.11,1275.35 L1243.57,1274.29 L1246.03,1273.21 L1248.49,1272.09 L1250.95,1270.94 L1253.41,1269.78 L1255.87,1268.58 L1258.33,1267.37 L1260.79,1266.14 L1263.25,1264.90 L1265.71,1263.64 L1268.17,1262.36 L1270.63,1261.08 L1273.09,1259.78 L1275.55,1258.48 L1278.01,1257.18 L1280.47,1255.87 L1282.93,1254.56 L1285.39,1253.25 L1287.85,1251.95 L1290.31,1250.65 L1292.77,1249.35 L1295.23,1248.07 L1297.69,1246.80 L1300.15,1245.54 L1302.61,1244.30 L1305.07,1243.07 L1307.53,1241.86 L1309.99,1240.68 L1312.45,1239.51 L1314.91,1238.37 L1317.37,1237.25 L1319.83,1236.17 L1322.28,1235.11 L1324.74,1234.08 L1327.20,1233.08 L1329.66,1232.12 L1332.12,1231.19 L1334.58,1230.30 L1337.04,1229.44 L1339.50,1228.63 L1341.96,1227.85 L1344.42,1227.12 L1346.88,1226.42 L1349.34,1225.78 L1351.80,1225.17 L1354.26,1224.61 L1356.72,1224.09 L1359.18,1223.62 L1361.64,1223.20 L1364.10,1222.82 L1366.56,1222.50 L1369.02,1222.22 L1371.48,1221.99 L1373.94,1221.80 L1376.40,1221.67 L1378.86,1221.59 L1381.32,1221.55 L1383.78,1221.56 L1386.24,1221.63 L1388.70,1221.74 L1391.16,1221.90 L1393.62,1222.10 L1396.08,1222.36 L1398.54,1222.66 L1401.00,1223.01 L1403.46,1223.40 L1405.92,1223.84 L1408.38,1224.32 L1410.83,1224.85 L1413.29,1225.41 L1415.75,1226.03 L1418.21,1226.68 L1420.67,1227.37 L1423.13,1228.09 L1425.59,1228.86 L1428.05,1229.66 L1430.51,1230.50 L1432.97,1231.37 L1435.43,1232.27 L1437.89,1233.20 L1440.35,1234.16 L1442.81,1235.14 L1445.27,1236.15 L1447.73,1237.19 L1450.19,1238.25 L1452.65,1239.33 L1455.11,1240.43 L1457.57,1241.54 L1460.03,1242.67 L1462.49,1243.82 L1464.95,1244.97 L1467.41,1246.14 L1469.87,1247.32 L1472.33,1248.50 L1474.79,1249.68 L1477.25,1250.87 L1479.71,1252.06 L1482.17,1253.25 L1484.63,1254.44 L1487.09,1255.62 L1489.55,1256.79 L1492.01,1257.96 L1494.47,1259.12 L1496.93,1260.26 L1499.38,1261.40 L1501.84,1262.51 L1504.30,1263.61 L1506.76,1264.69 L1509.22,1265.76 L1511.68,1266.80 L1514.14,1267.81 L1516.60,1268.81 L1519.06,1269.77 L1521.52,1270.71 L1523.98,1271.62 L1526.44,1272.50 L1528.90,1273.35 L1531.36,1274.16 L1533.82,1274.94 L1536.28,1275.69 L1538.74,1276.40 L1541.20,1277.07 L1543.66,1277.70 L1546.12,1278.30 L1548.58,1278.85 L1551.04,1279.37 L1553.50,1279.84 L1555.96,1280.27 L1558.42,1280.66 L1560.88,1281.01 L1563.34,1281.31 L1565.80,1281.57 L1568.26,1281.78 L1570.72,1281.95 L1573.18,1282.07 L1575.64,1282.15 L1578.10,1282.19 L1580.56,1282.18 L1583.02,1282.13 L1585.47,1282.03 L1587.93,1281.89 L1590.39,1281.70 L1592.85,1281.47 L1595.31,1281.20 L1597.77,1280.88 L1600.23,1280.53 L1602.69,1280.13 L1605.15,1279.69 L1607.61,1279.21 L1610.07,1278.70 L1612.53,1278.14 L1614.99,1277.55 L1617.45,1276.92 L1619.91,1276.26 L1622.37,1275.56 L1624.83,1274.83 L1627.29,1274.06 L1629.75,1273.27 L1632.21,1272.45 L1634.67,1271.60 L1637.13,1270.72 L1639.59,1269.82 L1642.05,1268.90 L1644.51,1267.95 L1646.97,1266.98 L1649.43,1266.00 L1651.89,1264.99 L1654.35,1263.97 L1656.81,1262.94 L1659.27,1261.89 L1661.73,1260.83 L1664.19,1259.76 L1666.65,1258.69 L1669.11,1257.61 L1671.57,1256.52 L1674.03,1255.43 L1676.48,1254.34 L1678.94,1253.25 L1681.40,1252.16 L1683.86,1251.08 L1686.32,1250.00 L1688.78,1248.93 L1691.24,1247.87 L1693.70,1246.82 L1696.16,1245.78 L1698.62,1244.75 L1701.08,1243.74 L1703.54,1242.75 L1706.00,1241.77 L1708.46,1240.82 L1710.92,1239.88 L1713.38,1238.97 L1715.84,1238.08 L1718.30,1237.22 L1720.76,1236.38 L1723.22,1235.58 L1725.68,1234.80 L1728.14,1234.05 L1730.60,1233.33 L1733.06,1232.64 L1735.52,1231.99 L1737.98,1231.37 L1740.44,1230.78 L1742.90,1230.23 L1745.36,1229.72 L1747.82,1229.25 L1750.28,1228.81 L1752.74,1228.41 L1755.20,1228.05 L1757.66,1227.73 L1760.12,1227.45 L1762.58,1227.21 L1765.03,1227.01 L1767.49,1226.86 L1769.95,1226.74 L1772.41,1226.66 L1774.87,1226.63 L1777.33,1226.63 L1779.79,1226.68 L1782.25,1226.77 L1784.71,1226.90 L1787.17,1227.07 L1789.63,1227.27 L1792.09,1227.52 L1794.55,1227.81 L1797.01,1228.14 L1799.47,1228.50 L1801.93,1228.90 L1804.39,1229.34 L1806.85,1229.82 L1809.31,1230.33 L1811.77,1230.87 L1814.23,1231.45 L1816.69,1232.06 L1819.15,1232.70 L1821.61,1233.37 L1824.07,1234.07 L1826.53,1234.80 L1828.99,1235.55 L1831.45,1236.34 L1833.91,1237.14 L1836.37,1237.97 L1838.83,1238.82 L1841.29,1239.70 L1843.75,1240.59 L1846.21,1241.50 L1848.67,1242.42 L1851.12,1243.36 L1853.58,1244.31 L1856.04,1245.28 L1858.50,1246.26 L1860.96,1247.24 L1863.42,1248.23 L1865.88,1249.23 L1868.34,1250.23 L1870.80,1251.24 L1873.26,1252.24 L1875.72,1253.25 L1878.18,1254.25 L1880.64,1255.25 L1883.10,1256.25 L1885.56,1257.24 L1888.02,1258.22 L1890.48,1259.19 L1892.94,1260.15 L1895.40,1261.10 L1897.86,1262.03 L1900.32,1262.95 L1902.78,1263.85 L1905.24,1264.74 L1907.70,1265.60 L1910.16,1266.44 L1912.62,1267.27 L1915.08,1268.07 L1917.54,1268.84 L1920.00,1269.59 L1922.46,1270.31 L1924.92,1271.01 L1927.38,1271.67 L1929.84,1272.31 L1932.30,1272.91 L1934.76,1273.49 L1937.22,1274.03 L1939.68,1274.54 L1942.13,1275.01 L1944.59,1275.46 L1947.05,1275.86 L1949.51,1276.23 L1951.97,1276.57 L1954.43,1276.86 L1956.89,1277.12 L1959.35,1277.35 L1961.81,1277.53 L1964.27,1277.68 L1966.73,1277.79 L1969.19,1277.86 L1971.65,1277.90 L1974.11,1277.89 L1976.57,1277.85 L1979.03,1277.77 L1981.49,1277.66 L1983.95,1277.50 L1986.41,1277.31 L1988.87,1277.08 L1991.33,1276.82 L1993.79,1276.52 L1996.25,1276.18 L1998.71,1275.81 L2001.17,1275.41 L2003.63,1274.97 L2006.09,1274.50 L2008.55,1273.99 L2011.01,1273.46 L2013.47,1272.90 L2015.93,1272.30 L2018.39,1271.68 L2020.85,1271.03 L2023.31,1270.36 L2025.77,1269.66 L2028.23,1268.94 L2030.68,1268.19 L2033.14,1267.42 L2035.60,1266.63 L2038.06,1265.82 L2040.52,1265.00 L2042.98,1264.16 L2045.44,1263.30 L2047.90,1262.43 L2050.36,1261.54 L2052.82,1260.65 L2055.28,1259.74 L2057.74,1258.83 L2060.20,1257.91 L2062.66,1256.98 L2065.12,1256.05 L2067.58,1255.12 L2070.04,1254.18 L2072.50,1253.25" stroke="#D95319" stroke-dasharray="52.3 14.2 25.9 14.2"/>
<path d="M301.50,1253.25 L303.96,1250.94 L306.42,1248.65 L308.88,1246.38 L311.34,1244.14 L313.80,1241.92 L316.26,1239.74 L318.72,1237.58 L321.18,1235.47 L323.64,1233.40 L326.10,1231.37 L328.56,1229.38 L331.02,1227.44 L333.48,1225.56 L335.94,1223.73 L338.40,1221.95 L340.86,1220.24 L343.32,1218.58 L345.77,1216.99 L348.23,1215.46 L350.69,1214.00 L353.15,1212.61 L355.61,1211.29 L358.07,1210.04 L360.53,1208.87 L362.99,1207.77 L365.45,1206.74 L367.91,1205.80 L370.37,1204.93 L372.83,1204.14 L375.29,1203.43 L377.75,1202.81 L380.21,1202.26 L382.67,1201.80 L385.13,1201.41 L387.59,1201.11 L390.05,1200.89 L392.51,1200.75 L394.97,1200.70 L397.43,1200.72 L399.89,1200.83 L402.35,1201.01 L404.81,1201.28 L407.27,1201.62 L409.73,1202.04 L412.19,1202.54 L414.65,1203.11 L417.11,1203.76 L419.57,1204.48 L422.03,1205.27 L424.49,1206.13 L426.95,1207.05 L429.41,1208.05 L431.87,1209.11 L434.32,1210.23 L436.78,1211.41 L439.24,1212.64 L441.70,1213.94 L444.16,1215.29 L446.62,1216.69 L449.08,1218.13 L451.54,1219.63 L454.00,1221.17 L456.46,1222.74 L458.92,1224.36 L461.38,1226.02 L463.84,1227.70 L466.30,1229.42 L468.76,1231.17 L471.22,1232.94 L473.68,1234.73 L476.14,1236.54 L478.60,1238.37 L481.06,1240.22 L483.52,1242.07 L485.98,1243.93 L488.44,1245.79 L490.90,1247.66 L493.36,1249.53 L495.82,1251.39 L498.28,1253.25 L500.74,1255.10 L503.20,1256.93 L505.66,1258.75 L508.12,1260.56 L510.58,1262.34 L513.04,1264.10 L515.50,1265.84 L517.96,1267.54 L520.42,1269.22 L522.88,1270.86 L525.33,1272.47 L527.79,1274.05 L530.25,1275.58 L532.71,1277.07 L535.17,1278.51 L537.63,1279.92 L540.09,1281.27 L542.55,1282.57 L545.01,1283.82 L547.47,1285.02 L549.93,1286.17 L552.39,1287.26 L554.85,1288.29 L557.31,1289.26 L559.77,1290.17 L562.23,1291.02 L564.69,1291.81 L567.15,1292.54 L569.61,1293.20 L572.07,1293.80 L574.53,1294.33 L576.99,1294.80 L579.45,1295.20 L581.91,1295.53 L584.37,1295.80 L586.83,1296.00 L589.29,1296.14 L591.75,1296.20 L594.21,1296.21 L596.67,1296.14 L599.13,1296.01 L601.59,1295.82 L604.05,1295.56 L606.51,1295.23 L608.97,1294.84 L611.42,1294.39 L613.88,1293.88 L616.34,1293.31 L618.80,1292.68 L621.26,1292.00 L623.72,1291.25 L626.18,1290.45 L628.64,1289.60 L631.10,1288.69 L633.56,1287.74 L636.02,1286.73 L638.48,1285.68 L640.94,1284.58 L643.40,1283.44 L645.86,1282.26 L648.32,1281.04 L650.78,1279.78 L653.24,1278.48 L655.70,1277.16 L658.16,1275.80 L660.62,1274.41 L663.08,1273.00 L665.54,1271.56 L668.00,1270.10 L670.46,1268.62 L672.92,1267.12 L675.38,1265.61 L677.84,1264.08 L680.30,1262.54 L682.76,1261.00 L685.22,1259.45 L687.68,1257.90 L690.14,1256.35 L692.60,1254.80 L695.06,1253.25 L697.52,1251.71 L699.98,1250.18 L702.43,1248.66 L704.89,1247.15 L707.35,1245.66 L709.81,1244.19 L712.27,1242.73 L714.73,1241.30 L717.19,1239.89 L719.65,1238.51 L722.11,1237.16 L724.57,1235.84 L727.03,1234.55 L729.49,1233.29 L731.95,1232.07 L734.41,1230.89 L736.87,1229.74 L739.33,1228.64 L741.79,1227.58 L744.25,1226.56 L746.71,1225.59 L749.17,1224.66 L751.63,1223.79 L754.09,1222.96 L756.55,1222.18 L759.01,1221.45 L761.47,1220.77 L763.93,1220.15 L766.39,1219.58 L768.85,1219.06 L771.31,1218.60 L773.77,1218.19 L776.23,1217.84 L778.69,1217.55 L781.15,1217.31 L783.61,1217.13 L786.07,1217.00 L788.53,1216.93 L790.98,1216.92 L793.44,1216.96 L795.90,1217.06 L798.36,1217.21 L800.82,1217.42 L803.28,1217.68 L805.74,1217.99 L808.20,1218.36 L810.66,1218.78 L813.12,1219.26 L815.58,1219.78 L818.04,1220.35 L820.50,1220.97 L822.96,1221.64 L825.42,1222.36 L827.88,1223.12 L830.34,1223.92 L832.80,1224.77 L835.26,1225.65 L837.72,1226.58 L840.18,1227.54 L842.64,1228.54 L845.10,1229.57 L847.56,1230.64 L850.02,1231.73 L852.48,1232.86 L854.94,1234.01 L857.40,1235.19 L859.86,1236.39 L862.32,1237.62 L864.78,1238.86 L867.24,1240.12 L869.70,1241.40 L872.16,1242.69 L874.62,1243.99 L877.08,1245.30 L879.53,1246.62 L881.99,1247.94 L884.45,1249.27 L886.91,1250.60 L889.37,1251.92 L891.83,1253.25 L894.29,1254.57 L896.75,1255.88 L899.21,1257.19 L901.67,1258.48 L904.13,1259.77 L906.59,1261.03 L909.05,1262.28 L911.51,1263.52 L913.97,1264.73 L916.43,1265.92 L918.89,1267.09 L921.35,1268.23 L923.81,1269.34 L926.27,1270.43 L928.73,1271.48 L931.19,1272.51 L933.65,1273.50 L936.11,1274.45 L938.57,1275.37 L941.03,1276.26 L943.49,1277.10 L945.95,1277.91 L948.41,1278.67 L950.87,1279.39 L953.33,1280.07 L955.79,1280.71 L958.25,1281.30 L960.71,1281.85 L963.17,1282.35 L965.62,1282.80 L968.08,1283.21 L970.54,1283.57 L973.00,1283.88 L975.46,1284.14 L977.92,1284.36 L980.38,1284.52 L982.84,1284.64 L985.30,1284.71 L987.76,1284.73 L990.22,1284.70 L992.68,1284.63 L995.14,1284.50 L997.60,1284.33 L1000.06,1284.11 L1002.52,1283.84 L1004.98,1283.53 L1007.44,1283.17 L1009.90,1282.77 L1012.36,1282.32 L1014.82,1281.83 L1017.28,1281.30 L1019.74,1280.73 L1022.20,1280.11 L1024.66,1279.46 L1027.12,1278.76 L1029.58,1278.04 L1032.04,1277.27 L1034.50,1276.47 L1036.96,1275.64 L1039.42,1274.77 L1041.88,1273.88 L1044.34,1272.95 L1046.80,1272.00 L1049.26,1271.03 L1051.72,1270.03 L1054.17,1269.00 L1056.63,1267.96 L1059.09,1266.89 L1061.55,1265.81 L1064.01,1264.71 L1066.47,1263.60 L1068.93,1262.48 L1071.39,1261.34 L1073.85,1260.20 L1076.31,1259.05 L1078.77,1257.89 L1081.23,1256.73 L1083.69,1255.57 L1086.15,1254.41 L1088.61,1253.25 L1091.07,1252.09 L1093.53,1250.94 L1095.99,1249.80 L1098.45,1248.67 L1100.91,1247.54 L1103.37,1246.43 L1105.83,1245.33 L1108.29,1244.25 L1110.75,1243.19 L1113.21,1242.14 L1115.67,1241.11 L1118.13,1240.11 L1120.59,1239.13 L1123.05,1238.17 L1125.51,1237.24 L1127.97,1236.34 L1130.43,1235.47 L1132.89,1234.62 L1135.35,1233.81 L1137.81,1233.03 L1140.27,1232.28 L1142.72,1231.57 L1145.18,1230.90 L1147.64,1230.26 L1150.10,1229.65 L1152.56,1229.09 L1155.02,1228.56 L1157.48,1228.08 L1159.94,1227.63 L1162.40,1227.23 L1164.86,1226.86 L1167.32,1226.54 L1169.78,1226.26 L1172.24,1226.02 L1174.70,1225.83 L1177.16,1225.68 L1179.62,1225.57 L1182.08,1225.50 L1184.54,1225.48 L1187.00,1225.50 L1189.46,1225.56 L1191.92,1225.66 L1194.38,1225.81 L1196.84,1226.00 L1199.30,1226.23 L1201.76,1226.50 L1204.22,1226.81 L1206.68,1227.16 L1209.14,1227.55 L1211.60,1227.98 L1214.06,1228.45 L1216.52,1228.95 L1218.98,1229.49 L1221.44,1230.06 L1223.90,1230.67 L1226.36,1231.31 L1228.82,1231.99 L1231.28,1232.69 L1233.73,1233.42 L1236.19,1234.19 L1238.65,1234.98 L1241.11,1235.79 L1243.57,1236.63 L1246.03,1237.49 L1248.49,1238.38 L1250.95,1239.28 L1253.41,1240.21 L1255.87,1241.15 L1258.33,1242.11 L1260.79,1243.08 L1263.25,1244.06 L1265.71,1245.06 L1268.17,1246.07 L1270.63,1247.08 L1273.09,1248.10 L1275.55,1249.13 L1278.01,1250.16 L1280.47,1251.19 L1282.93,1252.22 L1285.39,1253.25 L1287.85,1254.28 L1290.31,1255.30 L1292.77,1256.32 L1295.23,1257.33 L1297.69,1258.33 L1300.15,1259.32 L1302.61,1260.30 L1305.07,1261.26 L1307.53,1262.21 L1309.99,1263.14 L1312.45,1264.06 L1314.91,1264.95 L1317.37,1265.83 L1319.83,1266.68 L1322.28,1267.51 L1324.74,1268.32 L1327.20,1269.10 L1329.66,1269.86 L1332.12,1270.58 L1334.58,1271.28 L1337.04,1271.95 L1339.50,1272.59 L1341.96,1273.20 L1344.42,1273.77 L1346.88,1274.31 L1349.34,1274.82 L1351.80,1275.29 L1354.26,1275.73 L1356.72,1276.13 L1359.18,1276.50 L1361.64,1276.83 L1364.10,1277.12 L1366.56,1277.37 L1369.02,1277.59 L1371.48,1277.77 L1373.94,1277.91 L1376.40,1278.01 L1378.86,1278.07 L1381.32,1278.10 L1383.78,1278.08 L1386.24,1278.03 L1388.70,1277.94 L1391.16,1277.81 L1393.62,1277.65 L1396.08,1277.45 L1398.54,1277.21 L1401.00,1276.93 L1403.46,1276.62 L1405.92,1276.27 L1408.38,1275.89 L1410.83,1275.48 L1413.29,1275.03 L1415.75,1274.55 L1418.21,1274.04 L1420.67,1273.50 L1423.13,1272.92 L1425.59,1272.32 L1428.05,1271.70 L1430.51,1271.04 L1432.97,1270.36 L1435.43,1269.65 L1437.89,1268.92 L1440.35,1268.17 L1442.81,1267.40 L1445.27,1266.61 L1447.73,1265.80 L1450.19,1264.97 L1452.65,1264.12 L1455.11,1263.26 L1457.57,1262.39 L1460.03,1261.51 L1462.49,1260.61 L1464.95,1259.71 L1467.41,1258.80 L1469.87,1257.88 L1472.33,1256.96 L1474.79,1256.03 L1477.25,1255.11 L1479.71,1254.18 L1482.17,1253.25 L1484.63,1252.33 L1487.09,1251.40 L1489.55,1250.49 L1492.01,1249.58 L1494.47,1248.68 L1496.93,1247.78 L1499.38,1246.90 L1501.84,1246.03 L1504.30,1245.18 L1506.76,1244.33 L1509.22,1243.51 L1511.68,1242.70 L1514.14,1241.91 L1516.60,1241.14 L1519.06,1240.39 L1521.52,1239.66 L1523.98,1238.95 L1526.44,1238.27 L1528.90,1237.61 L1531.36,1236.98 L1533.82,1236.37 L1536.28,1235.79 L1538.74,1235.24 L1541.20,1234.72 L1543.66,1234.23 L1546.12,1233.77 L1548.58,1233.34 L1551.04,1232.94 L1553.50,1232.58 L1555.96,1232.24 L1558.42,1231.94 L1560.88,1231.68 L1563.34,1231.45 L1565.80,1231.25 L1568.26,1231.08 L1570.72,1230.95 L1573.18,1230.86 L1575.64,1230.80 L1578.10,1230.77 L1580.56,1230.78 L1583.02,1230.83 L1585.47,1230.91 L1587.93,1231.02 L1590.39,1231.17 L1592.85,1231.35 L1595.31,1231.56 L1597.77,1231.81 L1600.23,1232.08 L1602.69,1232.40 L1605.15,1232.74 L1607.61,1233.11 L1610.07,1233.51 L1612.53,1233.95 L1614.99,1234.41 L1617.45,1234.90 L1619.91,1235.41 L1622.37,1235.96 L1624.83,1236.52 L1627.29,1237.12 L1629.75,1237.73 L1632.21,1238.37 L1634.67,1239.03 L1637.13,1239.71 L1639.59,1240.41 L1642.05,1241.13 L1644.51,1241.86 L1646.97,1242.61 L1649.43,1243.38 L1651.89,1244.16 L1654.35,1244.95 L1656.81,1245.75 L1659.27,1246.56 L1661.73,1247.38 L1664.19,1248.21 L1666.65,1249.04 L1669.11,1249.88 L1671.57,1250.72 L1674.03,1251.56 L1676.48,1252.41 L1678.94,1253.25 L1681.40,1254.09 L1683.86,1254.93 L1686.32,1255.76 L1688.78,1256.59 L1691.24,1257.41 L1693.70,1258.22 L1696.16,1259.03 L1698.62,1259.82 L1701.08,1260.60 L1703.54,1261.36 L1706.00,1262.12 L1708.46,1262.86 L1710.92,1263.58 L1713.38,1264.28 L1715.84,1264.96 L1718.30,1265.63 L1720.76,1266.28 L1723.22,1266.90 L1725.68,1267.50 L1728.14,1268.08 L1730.60,1268.63 L1733.06,1269.16 L1735.52,1269.66 L1737.98,1270.14 L1740.44,1270.59 L1742.90,1271.01 L1745.36,1271.40 L1747.82,1271.77 L1750.28,1272.10 L1752.74,1272.41 L1755.20,1272.69 L1757.66,1272.93 L1760.12,1273.14 L1762.58,1273.33 L1765.03,1273.48 L1767.49,1273.60 L1769.95,1273.69 L1772.41,1273.74 L1774.87,1273.77 L1777.33,1273.76 L1779.79,1273.72 L1782.25,1273.66 L1784.71,1273.55 L1787.17,1273.42 L1789.63,1273.26 L1792.09,1273.07 L1794.55,1272.84 L1797.01,1272.59 L1799.47,1272.31 L1801.93,1272.00 L1804.39,1271.66 L1806.85,1271.29 L1809.31,1270.90 L1811.77,1270.48 L1814.23,1270.03 L1816.69,1269.56 L1819.15,1269.07 L1821.61,1268.55 L1824.07,1268.01 L1826.53,1267.45 L1828.99,1266.86 L1831.45,1266.26 L1833.91,1265.64 L1836.37,1265.00 L1838.83,1264.34 L1841.29,1263.67 L1843.75,1262.99 L1846.21,1262.29 L1848.67,1261.58 L1851.12,1260.85 L1853.58,1260.12 L1856.04,1259.38 L1858.50,1258.63 L1860.96,1257.87 L1863.42,1257.11 L1865.88,1256.34 L1868.34,1255.57 L1870.80,1254.80 L1873.26,1254.02 L1875.72,1253.25 L1878.18,1252.48 L1880.64,1251.71 L1883.10,1250.95 L1885.56,1250.19 L1888.02,1249.43 L1890.48,1248.69 L1892.94,1247.95 L1895.40,1247.23 L1897.86,1246.51 L1900.32,1245.80 L1902.78,1245.11 L1905.24,1244.44 L1907.70,1243.77 L1910.16,1243.13 L1912.62,1242.50 L1915.08,1241.88 L1917.54,1241.29 L1920.00,1240.72 L1922.46,1240.16 L1924.92,1239.63 L1927.38,1239.12 L1929.84,1238.64 L1932.30,1238.17 L1934.76,1237.73 L1937.22,1237.32 L1939.68,1236.93 L1942.13,1236.57 L1944.59,1236.23 L1947.05,1235.92 L1949.51,1235.64 L1951.97,1235.38 L1954.43,1235.16 L1956.89,1234.96 L1959.35,1234.79 L1961.81,1234.65 L1964.27,1234.54 L1966.73,1234.45 L1969.19,1234.40 L1971.65,1234.37 L1974.11,1234.38 L1976.57,1234.41 L1979.03,1234.47 L1981.49,1234.56 L1983.95,1234.68 L1986.41,1234.83 L1988.87,1235.01 L1991.33,1235.21 L1993.79,1235.44 L1996.25,1235.70 L1998.71,1235.99 L2001.17,1236.30 L2003.63,1236.63 L2006.09,1237.00 L2008.55,1237.38 L2011.01,1237.79 L2013.47,1238.22 L2015.93,1238.68 L2018.39,1239.15 L2020.85,1239.65 L2023.31,1240.17 L2025.77,1240.70 L2028.23,1241.26 L2030.68,1241.83 L2033.14,1242.42 L2035.60,1243.02 L2038.06,1243.64 L2040.52,1244.27 L2042.98,1244.92 L2045.44,1245.57 L2047.90,1246.24 L2050.36,1246.91 L2052.82,1247.60 L2055.28,1248.29 L2057.74,1248.99 L2060.20,1249.69 L2062.66,1250.40 L2065.12,1251.11 L2067.58,1251.82 L2070.04,1252.54 L2072.50,1253.25" stroke="#0072BD" stroke-dasharray="52.3 14.2 25.9 14.2"/>
</g>
<path d="M301.50,1253.25 L303.96,1253.25 L306.42,1253.26 L308.88,1253.26 L311.34,1253.27 L313.80,1253.29 L316.26,1253.30 L318.72,1253.32 L321.18,1253.34 L323.64,1253.36 L326.10,1253.39 L328.56,1253.42 L331.02,1253.45 L333.48,1253.48 L335.94,1253.51 L338.40,1253.55 L340.86,1253.59 L343.32,1253.63 L345.77,1253.68 L348.23,1253.72 L350.69,1253.77 L353.15,1253.81 L355.61,1253.86 L358.07,1253.91 L360.53,1253.96 L362.99,1254.02 L365.45,1254.07 L367.91,1254.12 L370.37,1254.18 L372.83,1254.23 L375.29,1254.28 L377.75,1254.34 L380.21,1254.39 L382.67,1254.44 L385.13,1254.50 L387.59,1254.55 L390.05,1254.60 L392.51,1254.65 L394.97,1254.70 L397.43,1254.74 L399.89,1254.79 L402.35,1254.83 L404.81,1254.87 L407.27,1254.91 L409.73,1254.94 L412.19,1254.97 L414.65,1255.00 L417.11,1255.03 L419.57,1255.05 L422.03,1255.07 L424.49,1255.09 L426.95,1255.10 L429.41,1255.11 L431.87,1255.12 L434.32,1255.12 L436.78,1255.11 L439.24,1255.10 L441.70,1255.09 L444.16,1255.07 L446.62,1255.05 L449.08,1255.02 L451.54,1254.98 L454.00,1254.94 L456.46,1254.90 L458.92,1254.85 L461.38,1254.79 L463.84,1254.73 L466.30,1254.66 L468.76,1254.59 L471.22,1254.51 L473.68,1254.43 L476.14,1254.34 L478.60,1254.24 L481.06,1254.14 L483.52,1254.03 L485.98,1253.91 L488.44,1253.79 L490.90,1253.66 L493.36,1253.53 L495.82,1253.39 L498.28,1253.25 L500.74,1253.10 L503.20,1252.95 L505.66,1252.79 L508.12,1252.62 L510.58,1252.45 L513.04,1252.28 L515.50,1252.10 L517.96,1251.91 L520.42,1251.73 L522.88,1251.53 L525.33,1251.34 L527.79,1251.14 L530.25,1250.94 L532.71,1250.73 L535.17,1250.52 L537.63,1250.31 L540.09,1250.10 L542.55,1249.89 L545.01,1249.67 L547.47,1249.46 L549.93,1249.24 L552.39,1249.03 L554.85,1248.81 L557.31,1248.60 L559.77,1248.38 L562.23,1248.17 L564.69,1247.96 L567.15,1247.75 L569.61,1247.55 L572.07,1247.35 L574.53,1247.15 L576.99,1246.96 L579.45,1246.77 L581.91,1246.59 L584.37,1246.41 L586.83,1246.25 L589.29,1246.09 L591.75,1245.93 L594.21,1245.79 L596.67,1245.65 L599.13,1245.52 L601.59,1245.41 L604.05,1245.30 L606.51,1245.21 L608.97,1245.12 L611.42,1245.05 L613.88,1245.00 L616.34,1244.95 L618.80,1244.92 L621.26,1244.90 L623.72,1244.90 L626.18,1244.92 L628.64,1244.95 L631.10,1245.00 L633.56,1245.06 L636.02,1245.14 L638.48,1245.24 L640.94,1245.36 L643.40,1245.50 L645.86,1245.65 L648.32,1245.83 L650.78,1246.03 L653.24,1246.24 L655.70,1246.48 L658.16,1246.74 L660.62,1247.02 L663.08,1247.32 L665.54,1247.64 L668.00,1247.99 L670.46,1248.35 L672.92,1248.74 L675.38,1249.16 L677.84,1249.59 L680.30,1250.05 L682.76,1250.52 L685.22,1251.03 L687.68,1251.55 L690.14,1252.09 L692.60,1252.66 L695.06,1253.25 L697.52,1253.86 L699.98,1254.49 L702.43,1255.14 L704.89,1255.82 L707.35,1256.51 L709.81,1257.22 L712.27,1257.95 L714.73,1258.70 L717.19,1259.46 L719.65,1260.25 L722.11,1261.04 L724.57,1261.86 L727.03,1262.68 L729.49,1263.52 L731.95,1264.38 L734.41,1265.24 L736.87,1266.12 L739.33,1267.00 L741.79,1267.89 L744.25,1268.79 L746.71,1269.69 L749.17,1270.59 L751.63,1271.50 L754.09,1272.41 L756.55,1273.32 L759.01,1274.22 L761.47,1275.12 L763.93,1276.01 L766.39,1276.90 L768.85,1277.77 L771.31,1278.64 L773.77,1279.49 L776.23,1280.32 L778.69,1281.13 L781.15,1281.93 L783.61,1282.70 L786.07,1283.45 L788.53,1284.17 L790.98,1284.86 L793.44,1285.52 L795.90,1286.14 L798.36,1286.73 L800.82,1287.27 L803.28,1287.78 L805.74,1288.24 L808.20,1288.65 L810.66,1289.01 L813.12,1289.32 L815.58,1289.57 L818.04,1289.76 L820.50,1289.89 L822.96,1289.96 L825.42,1289.96 L827.88,1289.88 L830.34,1289.74 L832.80,1289.52 L835.26,1289.21 L837.72,1288.83 L840.18,1288.36 L842.64,1287.80 L845.10,1287.14 L847.56,1286.40 L850.02,1285.55 L852.48,1284.60 L854.94,1283.55 L857.40,1282.39 L859.86,1281.12 L862.32,1279.74 L864.78,1278.24 L867.24,1276.63 L869.70,1274.89 L872.16,1273.02 L874.62,1271.03 L877.08,1268.90 L879.53,1266.64 L881.99,1264.25 L884.45,1261.71 L886.91,1259.04 L889.37,1256.22 L891.83,1253.25 L894.29,1250.13 L896.75,1246.86 L899.21,1243.44 L901.67,1239.86 L904.13,1236.12 L906.59,1232.22 L909.05,1228.15 L911.51,1223.93 L913.97,1219.53 L916.43,1214.97 L918.89,1210.23 L921.35,1205.32 L923.81,1200.24 L926.27,1194.99 L928.73,1189.56 L931.19,1183.95 L933.65,1178.16 L936.11,1172.20 L938.57,1166.05 L941.03,1159.72 L943.49,1153.22 L945.95,1146.53 L948.41,1139.66 L950.87,1132.60 L953.33,1125.37 L955.79,1117.95 L958.25,1110.35 L960.71,1102.57 L963.17,1094.61 L965.62,1086.47 L968.08,1078.15 L970.54,1069.65 L973.00,1060.98 L975.46,1052.13 L977.92,1043.11 L980.38,1033.91 L982.84,1024.55 L985.30,1015.01 L987.76,1005.31 L990.22,995.45 L992.68,985.42 L995.14,975.23 L997.60,964.89 L1000.06,954.40 L1002.52,943.75 L1004.98,932.96 L1007.44,922.03 L1009.90,910.95 L1012.36,899.74 L1014.82,888.39 L1017.28,876.92 L1019.74,865.32 L1022.20,853.61 L1024.66,841.78 L1027.12,829.84 L1029.58,817.79 L1032.04,805.64 L1034.50,793.40 L1036.96,781.06 L1039.42,768.64 L1041.88,756.15 L1044.34,743.57 L1046.80,730.93 L1049.26,718.23 L1051.72,705.47 L1054.17,692.66 L1056.63,679.81 L1059.09,666.92 L1061.55,654.00 L1064.01,641.06 L1066.47,628.10 L1068.93,615.12 L1071.39,602.15 L1073.85,589.18 L1076.31,576.21 L1078.77,563.27 L1081.23,550.35 L1083.69,537.46 L1086.15,524.61 L1088.61,511.80 L1091.07,499.05 L1093.53,486.37 L1095.99,473.75 L1098.45,461.21 L1100.91,448.75 L1103.37,436.38 L1105.83,424.11 L1108.29,411.95 L1110.75,399.90 L1113.21,387.98 L1115.67,376.18 L1118.13,364.53 L1120.59,353.01 L1123.05,341.65 L1125.51,330.45 L1127.97,319.42 L1130.43,308.56 L1132.89,297.88 L1135.35,287.40 L1137.81,277.11 L1140.27,267.02 L1142.72,257.14 L1145.18,247.48 L1147.64,238.05 L1150.10,228.84 L1152.56,219.88 L1155.02,211.16 L1157.48,202.69 L1159.94,194.48 L1162.40,186.53 L1164.86,178.85 L1167.32,171.44 L1169.78,164.32 L1172.24,157.48 L1174.70,150.94 L1177.16,144.69 L1179.62,138.75 L1182.08,133.11 L1184.54,127.79 L1187.00,122.78 L1189.46,118.09 L1191.92,113.73 L1194.38,109.70 L1196.84,106.00 L1199.30,102.64 L1201.76,99.61 L1204.22,96.93 L1206.68,94.60 L1209.14,92.62 L1211.60,90.98 L1214.06,89.70 L1216.52,88.78 L1218.98,88.21 L1221.44,88.00 L1223.90,88.15 L1226.36,88.66 L1228.82,89.54 L1231.28,90.77 L1233.73,92.37 L1236.19,94.33 L1238.65,96.65 L1241.11,99.34 L1243.57,102.38 L1246.03,105.79 L1248.49,109.55 L1250.95,113.68 L1253.41,118.16 L1255.87,122.99 L1258.33,128.17 L1260.79,133.71 L1263.25,139.59 L1265.71,145.81 L1268.17,152.37 L1270.63,159.27 L1273.09,166.51 L1275.55,174.07 L1278.01,181.96 L1280.47,190.17 L1282.93,198.69 L1285.39,207.53 L1287.85,216.67 L1290.31,226.12 L1292.77,235.86 L1295.23,245.89 L1297.69,256.20 L1300.15,266.79 L1302.61,277.65 L1305.07,288.78 L1307.53,300.16 L1309.99,311.80 L1312.45,323.68 L1314.91,335.80 L1317.37,348.15 L1319.83,360.72 L1322.28,373.50 L1324.74,386.49 L1327.20,399.68 L1329.66,413.06 L1332.12,426.62 L1334.58,440.36 L1337.04,454.26 L1339.50,468.32 L1341.96,482.53 L1344.42,496.87 L1346.88,511.35 L1349.34,525.95 L1351.80,540.66 L1354.26,555.47 L1356.72,570.38 L1359.18,585.38 L1361.64,600.45 L1364.10,615.59 L1366.56,630.79 L1369.02,646.03 L1371.48,661.32 L1373.94,676.63 L1376.40,691.97 L1378.86,707.31 L1381.32,722.66 L1383.78,738.01 L1386.24,753.33 L1388.70,768.64 L1391.16,783.91 L1393.62,799.13 L1396.08,814.31 L1398.54,829.42 L1401.00,844.47 L1403.46,859.43 L1405.92,874.32 L1408.38,889.10 L1410.83,903.79 L1413.29,918.36 L1415.75,932.81 L1418.21,947.14 L1420.67,961.33 L1423.13,975.38 L1425.59,989.28 L1428.05,1003.02 L1430.51,1016.60 L1432.97,1030.01 L1435.43,1043.24 L1437.89,1056.28 L1440.35,1069.14 L1442.81,1081.79 L1445.27,1094.25 L1447.73,1106.49 L1450.19,1118.52 L1452.65,1130.33 L1455.11,1141.92 L1457.57,1153.27 L1460.03,1164.39 L1462.49,1175.28 L1464.95,1185.91 L1467.41,1196.30 L1469.87,1206.44 L1472.33,1216.33 L1474.79,1225.95 L1477.25,1235.32 L1479.71,1244.42 L1482.17,1253.25 L1484.63,1261.81 L1487.09,1270.11 L1489.55,1278.13 L1492.01,1285.87 L1494.47,1293.34 L1496.93,1300.53 L1499.38,1307.44 L1501.84,1314.08 L1504.30,1320.43 L1506.76,1326.51 L1509.22,1332.30 L1511.68,1337.82 L1514.14,1343.05 L1516.60,1348.01 L1519.06,1352.70 L1521.52,1357.11 L1523.98,1361.24 L1526.44,1365.10 L1528.90,1368.69 L1531.36,1372.02 L1533.82,1375.07 L1536.28,1377.87 L1538.74,1380.40 L1541.20,1382.68 L1543.66,1384.70 L1546.12,1386.47 L1548.58,1387.99 L1551.04,1389.27 L1553.50,1390.31 L1555.96,1391.12 L1558.42,1391.69 L1560.88,1392.03 L1563.34,1392.16 L1565.80,1392.07 L1568.26,1391.76 L1570.72,1391.25 L1573.18,1390.53 L1575.64,1389.62 L1578.10,1388.51 L1580.56,1387.22 L1583.02,1385.75 L1585.47,1384.10 L1587.93,1382.29 L1590.39,1380.31 L1592.85,1378.18 L1595.31,1375.89 L1597.77,1373.46 L1600.23,1370.89 L1602.69,1368.19 L1605.15,1365.36 L1607.61,1362.42 L1610.07,1359.36 L1612.53,1356.19 L1614.99,1352.92 L1617.45,1349.56 L1619.91,1346.11 L1622.37,1342.58 L1624.83,1338.98 L1627.29,1335.30 L1629.75,1331.57 L1632.21,1327.78 L1634.67,1323.94 L1637.13,1320.06 L1639.59,1316.14 L1642.05,1312.19 L1644.51,1308.21 L1646.97,1304.22 L1649.43,1300.22 L1651.89,1296.21 L1654.35,1292.19 L1656.81,1288.19 L1659.27,1284.19 L1661.73,1280.21 L1664.19,1276.25 L1666.65,1272.32 L1669.11,1268.42 L1671.57,1264.56 L1674.03,1260.74 L1676.48,1256.97 L1678.94,1253.25 L1681.40,1249.59 L1683.86,1245.98 L1686.32,1242.44 L1688.78,1238.97 L1691.24,1235.58 L1693.70,1232.26 L1696.16,1229.02 L1698.62,1225.86 L1701.08,1222.80 L1703.54,1219.82 L1706.00,1216.94 L1708.46,1214.15 L1710.92,1211.46 L1713.38,1208.88 L1715.84,1206.39 L1718.30,1204.02 L1720.76,1201.75 L1723.22,1199.59 L1725.68,1197.54 L1728.14,1195.61 L1730.60,1193.79 L1733.06,1192.09 L1735.52,1190.50 L1737.98,1189.03 L1740.44,1187.68 L1742.90,1186.44 L1745.36,1185.33 L1747.82,1184.33 L1750.28,1183.45 L1752.74,1182.69 L1755.20,1182.05 L1757.66,1181.52 L1760.12,1181.11 L1762.58,1180.82 L1765.03,1180.64 L1767.49,1180.58 L1769.95,1180.63 L1772.41,1180.79 L1774.87,1181.05 L1777.33,1181.43 L1779.79,1181.91 L1782.25,1182.50 L1784.71,1183.18 L1787.17,1183.97 L1789.63,1184.86 L1792.09,1185.83 L1794.55,1186.91 L1797.01,1188.07 L1799.47,1189.31 L1801.93,1190.65 L1804.39,1192.06 L1806.85,1193.55 L1809.31,1195.12 L1811.77,1196.75 L1814.23,1198.46 L1816.69,1200.23 L1819.15,1202.07 L1821.61,1203.96 L1824.07,1205.91 L1826.53,1207.91 L1828.99,1209.95 L1831.45,1212.05 L1833.91,1214.18 L1836.37,1216.35 L1838.83,1218.56 L1841.29,1220.79 L1843.75,1223.05 L1846.21,1225.34 L1848.67,1227.64 L1851.12,1229.96 L1853.58,1232.30 L1856.04,1234.64 L1858.50,1236.98 L1860.96,1239.33 L1863.42,1241.67 L1865.88,1244.01 L1868.34,1246.34 L1870.80,1248.66 L1873.26,1250.97 L1875.72,1253.25 L1878.18,1255.51 L1880.64,1257.75 L1883.10,1259.96 L1885.56,1262.13 L1888.02,1264.27 L1890.48,1266.38 L1892.94,1268.44 L1895.40,1270.47 L1897.86,1272.44 L1900.32,1274.37 L1902.78,1276.25 L1905.24,1278.08 L1907.70,1279.85 L1910.16,1281.56 L1912.62,1283.22 L1915.08,1284.81 L1917.54,1286.34 L1920.00,1287.81 L1922.46,1289.21 L1924.92,1290.55 L1927.38,1291.81 L1929.84,1293.00 L1932.30,1294.12 L1934.76,1295.17 L1937.22,1296.15 L1939.68,1297.05 L1942.13,1297.88 L1944.59,1298.63 L1947.05,1299.30 L1949.51,1299.90 L1951.97,1300.42 L1954.43,1300.87 L1956.89,1301.24 L1959.35,1301.53 L1961.81,1301.74 L1964.27,1301.88 L1966.73,1301.94 L1969.19,1301.93 L1971.65,1301.84 L1974.11,1301.68 L1976.57,1301.45 L1979.03,1301.14 L1981.49,1300.76 L1983.95,1300.32 L1986.41,1299.80 L1988.87,1299.22 L1991.33,1298.57 L1993.79,1297.85 L1996.25,1297.08 L1998.71,1296.24 L2001.17,1295.34 L2003.63,1294.39 L2006.09,1293.38 L2008.55,1292.31 L2011.01,1291.20 L2013.47,1290.03 L2015.93,1288.82 L2018.39,1287.56 L2020.85,1286.25 L2023.31,1284.91 L2025.77,1283.53 L2028.23,1282.11 L2030.68,1280.66 L2033.14,1279.18 L2035.60,1277.66 L2038.06,1276.13 L2040.52,1274.56 L2042.98,1272.98 L2045.44,1271.38 L2047.90,1269.76 L2050.36,1268.13 L2052.82,1266.49 L2055.28,1264.84 L2057.74,1263.18 L2060.20,1261.52 L2062.66,1259.86 L2065.12,1258.20 L2067.58,1256.54 L2070.04,1254.89 L2072.50,1253.25" stroke="#000" fill="none" stroke-width="13.4" stroke-linejoin="round" clip-path="url(#cE)"/>
<path d="M792.6,1486.30V88.00" stroke="#000" stroke-width="5.2" stroke-dasharray="20.1 17.5" fill="none"/>
<text font-family="Liberation Sans, Arial, Helvetica, sans-serif" fill="#D95319" font-weight="bold"><tspan x="1362.45" y="292.90" style="font-size:65px;font-weight:bold">|</tspan><tspan x="1380.83" y="292.90" style="font-size:65px;font-weight:bold">b</tspan><tspan x="1420.60" y="324.30" style="font-size:53.5px;font-weight:bold">0</tspan><tspan x="1451.60" y="292.90" style="font-size:65px;font-weight:bold">|</tspan><tspan x="1486.92" y="292.90" style="font-size:65px;font-weight:bold">W</tspan><tspan x="1547.84" y="292.90" style="font-size:65px;font-weight:bold">(</tspan><tspan x="1573.61" y="293.90" style="font-size:66px;font-family:Liberation Serif, Times New Roman, serif;font-style:italic;font-weight:bold">ζ</tspan><tspan x="1623.76" y="292.90" style="font-size:65px;font-weight:bold">-</tspan><tspan x="1661.72" y="292.90" style="font-size:65px;font-weight:bold">k</tspan><tspan x="1698.96" y="324.30" style="font-size:53.5px;font-weight:bold">2</tspan><tspan x="1729.72" y="292.90" style="font-size:65px;font-weight:bold">)</tspan></text>
<text font-family="Liberation Sans, Arial, Helvetica, sans-serif" fill="#0072BD" font-weight="bold"><tspan x="1484.30" y="614.70" style="font-size:65px;font-weight:bold">|</tspan><tspan x="1503.03" y="614.70" style="font-size:65px;font-weight:bold">b</tspan><tspan x="1544.67" y="646.10" style="font-size:53.5px;font-weight:bold">-</tspan><tspan x="1561.14" y="646.10" style="font-size:53.5px;font-weight:bold">1</tspan><tspan x="1590.50" y="614.70" style="font-size:65px;font-weight:bold">|</tspan><tspan x="1627.37" y="614.70" style="font-size:65px;font-weight:bold">W</tspan><tspan x="1687.88" y="614.70" style="font-size:65px;font-weight:bold">(</tspan><tspan x="1713.41" y="615.70" style="font-size:66px;font-family:Liberation Serif, Times New Roman, serif;font-style:italic;font-weight:bold">ζ</tspan><tspan x="1763.66" y="614.70" style="font-size:65px;font-weight:bold">-</tspan><tspan x="1801.32" y="614.70" style="font-size:65px;font-weight:bold">k</tspan><tspan x="1838.69" y="646.10" style="font-size:53.5px;font-weight:bold">1</tspan><tspan x="1869.12" y="614.70" style="font-size:65px;font-weight:bold">)</tspan></text>
<text font-family="Liberation Sans, Arial, Helvetica, sans-serif" fill="#D95319" font-weight="bold"><tspan x="1503.00" y="983.30" style="font-size:65px;font-weight:bold">|</tspan><tspan x="1521.03" y="983.30" style="font-size:65px;font-weight:bold">b</tspan><tspan x="1561.40" y="1014.70" style="font-size:53.5px;font-weight:bold">0</tspan><tspan x="1591.80" y="983.30" style="font-size:65px;font-weight:bold">|</tspan><tspan x="1627.97" y="983.30" style="font-size:65px;font-weight:bold">W</tspan><tspan x="1688.54" y="983.30" style="font-size:65px;font-weight:bold">(</tspan><tspan x="1713.51" y="984.30" style="font-size:66px;font-family:Liberation Serif, Times New Roman, serif;font-style:italic;font-weight:bold">ζ</tspan><tspan x="1762.99" y="983.30" style="font-size:65px;font-weight:bold">+</tspan><tspan x="1817.82" y="983.30" style="font-size:65px;font-weight:bold">k</tspan><tspan x="1855.31" y="1014.70" style="font-size:53.5px;font-weight:bold">2</tspan><tspan x="1887.12" y="983.30" style="font-size:65px;font-weight:bold">)</tspan></text>
<text font-family="Liberation Sans, Arial, Helvetica, sans-serif" fill="#0072BD" font-weight="bold"><tspan x="316.30" y="978.80" style="font-size:65px;font-weight:bold">|</tspan><tspan x="335.23" y="978.80" style="font-size:65px;font-weight:bold">b</tspan><tspan x="376.97" y="1010.20" style="font-size:53.5px;font-weight:bold">-</tspan><tspan x="393.34" y="1010.20" style="font-size:53.5px;font-weight:bold">1</tspan><tspan x="422.20" y="978.80" style="font-size:65px;font-weight:bold">|</tspan><tspan x="458.92" y="978.80" style="font-size:65px;font-weight:bold">W</tspan><tspan x="519.63" y="978.80" style="font-size:65px;font-weight:bold">(</tspan><tspan x="544.71" y="979.80" style="font-size:66px;font-family:Liberation Serif, Times New Roman, serif;font-style:italic;font-weight:bold">ζ</tspan><tspan x="593.69" y="978.80" style="font-size:65px;font-weight:bold">+</tspan><tspan x="648.42" y="978.80" style="font-size:65px;font-weight:bold">k</tspan><tspan x="687.54" y="1010.20" style="font-size:53.5px;font-weight:bold">1</tspan><tspan x="717.87" y="978.80" style="font-size:65px;font-weight:bold">)</tspan></text>
<text font-family="Liberation Sans, Arial, Helvetica, sans-serif" fill="#000" ><tspan x="960.06" y="271.80" style="font-size:65px;font-weight:bold">E</tspan><tspan x="1003.04" y="271.80" style="font-size:65px;font-weight:bold">(</tspan><tspan x="1028.76" y="273.50" style="font-size:66px;font-family:Liberation Serif, Times New Roman, serif;font-style:italic;font-weight:bold">ζ</tspan><tspan x="1060.22" y="271.80" style="font-size:65px;font-weight:bold">)</tspan></text>
<text x="377.07" y="458" font-family="Liberation Sans, Arial, Helvetica, sans-serif" font-size="65" letter-spacing="0.3" fill="#000">Light cone</text>
<path d="M313.70,510.60 Q339.50,496.27 368.20,489.40 Q362.87,501.77 352.70,510.60 Q362.87,519.43 368.20,531.80 Q339.50,524.93 313.70,510.60 Z" fill="#000"/>
<path d="M782.00,510.60 Q756.20,524.93 727.50,531.80 Q732.83,519.43 743.00,510.60 Q732.83,501.77 727.50,489.40 Q756.20,496.27 782.00,510.60 Z" fill="#000"/>
<path d="M350,510.6H746" stroke="#000" stroke-width="3"/>
<path d="M1477.10,652.00L1254.60,818.90" stroke="#000" stroke-width="2.3"/><path d="M1224.20,841.70 Q1237.79,815.59 1255.76,792.28 Q1258.17,805.72 1254.60,818.90 Q1268.25,819.15 1280.48,825.24 Q1253.07,835.96 1224.20,841.70 Z" fill="#000"/>
<path d="M541.20,1012.60L750.49,1182.36" stroke="#000" stroke-width="2.3"/><path d="M780.00,1206.30 Q751.37,1199.47 724.39,1187.71 Q736.83,1182.10 750.49,1182.36 Q747.41,1169.06 750.34,1155.72 Q767.41,1179.69 780.00,1206.30 Z" fill="#000"/>
<path d="M1626.20,1032.00L1379.64,1170.31" stroke="#000" stroke-width="2.3"/><path d="M1346.50,1188.90 Q1363.41,1164.81 1384.30,1144.07 Q1384.93,1157.72 1379.64,1170.31 Q1393.14,1172.36 1404.46,1180.01 Q1375.87,1187.02 1346.50,1188.90 Z" fill="#000"/>
</svg></body></html>
